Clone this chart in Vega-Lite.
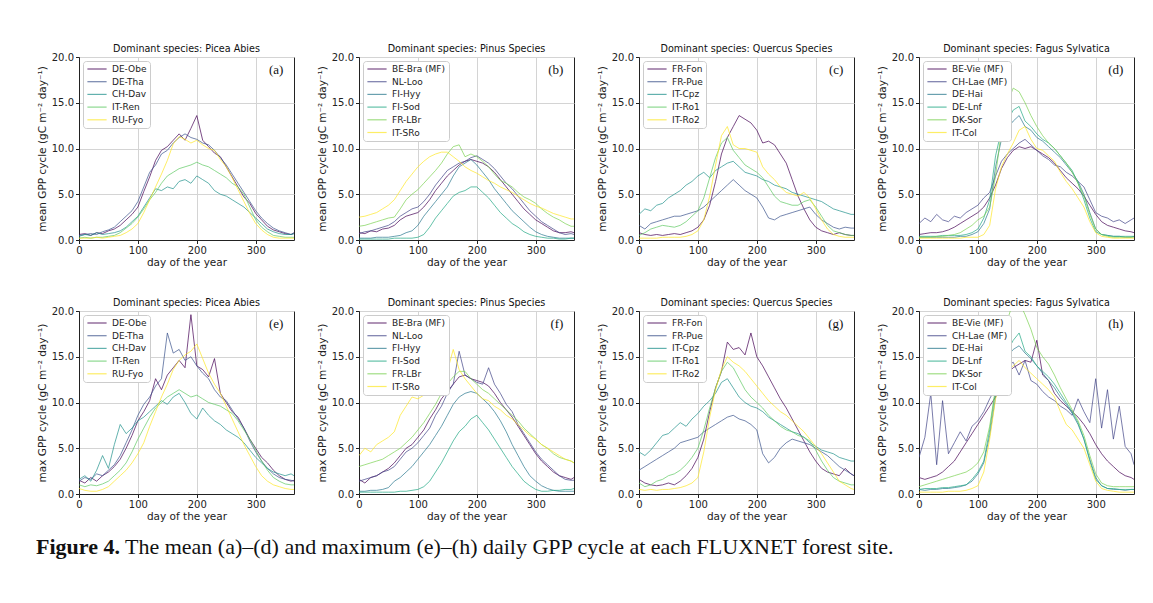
{
"$schema":"https://vega.github.io/schema/vega-lite/v6.json",
"padding":{"left":36,"top":43,"right":5,"bottom":5},
"background":"white",
"datasets":{
"a":[
{"s":"DE-Obe","d":0,"v":0.6},{"s":"DE-Obe","d":10,"v":0.7},{"s":"DE-Obe","d":20,"v":0.5},{"s":"DE-Obe","d":30,"v":0.8},{"s":"DE-Obe","d":40,"v":0.7},{"s":"DE-Obe","d":50,"v":1.0},{"s":"DE-Obe","d":60,"v":1.2},{"s":"DE-Obe","d":70,"v":1.6},{"s":"DE-Obe","d":80,"v":2.2},{"s":"DE-Obe","d":90,"v":2.8},{"s":"DE-Obe","d":100,"v":3.6},{"s":"DE-Obe","d":110,"v":5.3},{"s":"DE-Obe","d":120,"v":6.9},{"s":"DE-Obe","d":130,"v":8.7},{"s":"DE-Obe","d":140,"v":9.8},{"s":"DE-Obe","d":150,"v":10.2},{"s":"DE-Obe","d":160,"v":10.9},{"s":"DE-Obe","d":170,"v":11.6},{"s":"DE-Obe","d":180,"v":10.9},{"s":"DE-Obe","d":190,"v":12.2},{"s":"DE-Obe","d":200,"v":13.6},{"s":"DE-Obe","d":210,"v":10.9},{"s":"DE-Obe","d":220,"v":10.2},{"s":"DE-Obe","d":230,"v":9.5},{"s":"DE-Obe","d":240,"v":9.1},{"s":"DE-Obe","d":250,"v":8.0},{"s":"DE-Obe","d":260,"v":6.9},{"s":"DE-Obe","d":270,"v":5.8},{"s":"DE-Obe","d":280,"v":4.7},{"s":"DE-Obe","d":290,"v":4.0},{"s":"DE-Obe","d":300,"v":2.9},{"s":"DE-Obe","d":310,"v":2.2},{"s":"DE-Obe","d":320,"v":1.5},{"s":"DE-Obe","d":330,"v":1.1},{"s":"DE-Obe","d":340,"v":0.9},{"s":"DE-Obe","d":350,"v":0.7},{"s":"DE-Obe","d":360,"v":0.6},{"s":"DE-Obe","d":365,"v":0.8},
{"s":"DE-Tha","d":0,"v":0.5},{"s":"DE-Tha","d":10,"v":0.6},{"s":"DE-Tha","d":20,"v":0.7},{"s":"DE-Tha","d":30,"v":0.6},{"s":"DE-Tha","d":40,"v":0.9},{"s":"DE-Tha","d":50,"v":1.1},{"s":"DE-Tha","d":60,"v":1.4},{"s":"DE-Tha","d":70,"v":2.0},{"s":"DE-Tha","d":80,"v":2.6},{"s":"DE-Tha","d":90,"v":3.2},{"s":"DE-Tha","d":100,"v":4.2},{"s":"DE-Tha","d":110,"v":5.8},{"s":"DE-Tha","d":120,"v":7.4},{"s":"DE-Tha","d":130,"v":8.2},{"s":"DE-Tha","d":140,"v":9.4},{"s":"DE-Tha","d":150,"v":9.8},{"s":"DE-Tha","d":160,"v":10.6},{"s":"DE-Tha","d":170,"v":11.2},{"s":"DE-Tha","d":180,"v":11.6},{"s":"DE-Tha","d":190,"v":11.2},{"s":"DE-Tha","d":200,"v":11.0},{"s":"DE-Tha","d":210,"v":10.6},{"s":"DE-Tha","d":220,"v":10.4},{"s":"DE-Tha","d":230,"v":9.8},{"s":"DE-Tha","d":240,"v":9.0},{"s":"DE-Tha","d":250,"v":8.2},{"s":"DE-Tha","d":260,"v":7.2},{"s":"DE-Tha","d":270,"v":6.2},{"s":"DE-Tha","d":280,"v":5.2},{"s":"DE-Tha","d":290,"v":4.2},{"s":"DE-Tha","d":300,"v":3.2},{"s":"DE-Tha","d":310,"v":2.4},{"s":"DE-Tha","d":320,"v":1.8},{"s":"DE-Tha","d":330,"v":1.3},{"s":"DE-Tha","d":340,"v":1.0},{"s":"DE-Tha","d":350,"v":0.8},{"s":"DE-Tha","d":360,"v":0.6},{"s":"DE-Tha","d":365,"v":0.7},
{"s":"CH-Dav","d":0,"v":0.4},{"s":"CH-Dav","d":10,"v":0.6},{"s":"CH-Dav","d":20,"v":0.5},{"s":"CH-Dav","d":30,"v":0.8},{"s":"CH-Dav","d":40,"v":0.6},{"s":"CH-Dav","d":50,"v":0.7},{"s":"CH-Dav","d":60,"v":0.8},{"s":"CH-Dav","d":70,"v":1.0},{"s":"CH-Dav","d":80,"v":1.4},{"s":"CH-Dav","d":90,"v":2.0},{"s":"CH-Dav","d":100,"v":2.6},{"s":"CH-Dav","d":110,"v":3.6},{"s":"CH-Dav","d":120,"v":4.6},{"s":"CH-Dav","d":130,"v":5.6},{"s":"CH-Dav","d":140,"v":5.4},{"s":"CH-Dav","d":150,"v":5.8},{"s":"CH-Dav","d":160,"v":5.6},{"s":"CH-Dav","d":170,"v":6.4},{"s":"CH-Dav","d":180,"v":6.6},{"s":"CH-Dav","d":190,"v":6.2},{"s":"CH-Dav","d":200,"v":7.0},{"s":"CH-Dav","d":210,"v":6.6},{"s":"CH-Dav","d":220,"v":6.2},{"s":"CH-Dav","d":230,"v":5.4},{"s":"CH-Dav","d":240,"v":5.0},{"s":"CH-Dav","d":250,"v":4.8},{"s":"CH-Dav","d":260,"v":4.4},{"s":"CH-Dav","d":270,"v":4.0},{"s":"CH-Dav","d":280,"v":3.6},{"s":"CH-Dav","d":290,"v":3.0},{"s":"CH-Dav","d":300,"v":2.4},{"s":"CH-Dav","d":310,"v":1.8},{"s":"CH-Dav","d":320,"v":1.2},{"s":"CH-Dav","d":330,"v":0.9},{"s":"CH-Dav","d":340,"v":0.7},{"s":"CH-Dav","d":350,"v":0.6},{"s":"CH-Dav","d":360,"v":0.6},{"s":"CH-Dav","d":365,"v":0.7},
{"s":"IT-Ren","d":0,"v":0.2},{"s":"IT-Ren","d":10,"v":0.3},{"s":"IT-Ren","d":20,"v":0.2},{"s":"IT-Ren","d":30,"v":0.3},{"s":"IT-Ren","d":40,"v":0.3},{"s":"IT-Ren","d":50,"v":0.4},{"s":"IT-Ren","d":60,"v":0.5},{"s":"IT-Ren","d":70,"v":0.8},{"s":"IT-Ren","d":80,"v":1.3},{"s":"IT-Ren","d":90,"v":1.8},{"s":"IT-Ren","d":100,"v":2.5},{"s":"IT-Ren","d":110,"v":3.4},{"s":"IT-Ren","d":120,"v":4.4},{"s":"IT-Ren","d":130,"v":5.2},{"s":"IT-Ren","d":140,"v":6.2},{"s":"IT-Ren","d":150,"v":7.0},{"s":"IT-Ren","d":160,"v":7.4},{"s":"IT-Ren","d":170,"v":7.8},{"s":"IT-Ren","d":180,"v":8.0},{"s":"IT-Ren","d":190,"v":8.2},{"s":"IT-Ren","d":200,"v":8.5},{"s":"IT-Ren","d":210,"v":8.2},{"s":"IT-Ren","d":220,"v":8.0},{"s":"IT-Ren","d":230,"v":7.6},{"s":"IT-Ren","d":240,"v":7.2},{"s":"IT-Ren","d":250,"v":6.8},{"s":"IT-Ren","d":260,"v":6.2},{"s":"IT-Ren","d":270,"v":5.8},{"s":"IT-Ren","d":280,"v":5.0},{"s":"IT-Ren","d":290,"v":3.6},{"s":"IT-Ren","d":300,"v":2.2},{"s":"IT-Ren","d":310,"v":1.4},{"s":"IT-Ren","d":320,"v":0.9},{"s":"IT-Ren","d":330,"v":0.5},{"s":"IT-Ren","d":340,"v":0.4},{"s":"IT-Ren","d":350,"v":0.3},{"s":"IT-Ren","d":360,"v":0.3},{"s":"IT-Ren","d":365,"v":0.3},
{"s":"RU-Fyo","d":0,"v":0.2},{"s":"RU-Fyo","d":10,"v":0.2},{"s":"RU-Fyo","d":20,"v":0.2},{"s":"RU-Fyo","d":30,"v":0.3},{"s":"RU-Fyo","d":40,"v":0.2},{"s":"RU-Fyo","d":50,"v":0.3},{"s":"RU-Fyo","d":60,"v":0.4},{"s":"RU-Fyo","d":70,"v":0.5},{"s":"RU-Fyo","d":80,"v":0.8},{"s":"RU-Fyo","d":90,"v":1.2},{"s":"RU-Fyo","d":100,"v":1.8},{"s":"RU-Fyo","d":110,"v":3.0},{"s":"RU-Fyo","d":120,"v":4.4},{"s":"RU-Fyo","d":130,"v":5.8},{"s":"RU-Fyo","d":140,"v":7.2},{"s":"RU-Fyo","d":150,"v":8.7},{"s":"RU-Fyo","d":160,"v":10.5},{"s":"RU-Fyo","d":170,"v":11.3},{"s":"RU-Fyo","d":180,"v":11.0},{"s":"RU-Fyo","d":190,"v":10.6},{"s":"RU-Fyo","d":200,"v":10.9},{"s":"RU-Fyo","d":210,"v":10.4},{"s":"RU-Fyo","d":220,"v":10.0},{"s":"RU-Fyo","d":230,"v":9.8},{"s":"RU-Fyo","d":240,"v":8.8},{"s":"RU-Fyo","d":250,"v":8.0},{"s":"RU-Fyo","d":260,"v":6.8},{"s":"RU-Fyo","d":270,"v":5.5},{"s":"RU-Fyo","d":280,"v":4.2},{"s":"RU-Fyo","d":290,"v":2.9},{"s":"RU-Fyo","d":300,"v":1.8},{"s":"RU-Fyo","d":310,"v":1.1},{"s":"RU-Fyo","d":320,"v":0.6},{"s":"RU-Fyo","d":330,"v":0.3},{"s":"RU-Fyo","d":340,"v":0.2},{"s":"RU-Fyo","d":350,"v":0.2},{"s":"RU-Fyo","d":360,"v":0.2},{"s":"RU-Fyo","d":365,"v":0.2}
],
"b":[
{"s":"BE-Bra (MF)","d":0,"v":0.8},{"s":"BE-Bra (MF)","d":10,"v":0.7},{"s":"BE-Bra (MF)","d":20,"v":1.0},{"s":"BE-Bra (MF)","d":30,"v":0.9},{"s":"BE-Bra (MF)","d":40,"v":1.2},{"s":"BE-Bra (MF)","d":50,"v":1.3},{"s":"BE-Bra (MF)","d":60,"v":1.6},{"s":"BE-Bra (MF)","d":70,"v":2.2},{"s":"BE-Bra (MF)","d":80,"v":2.6},{"s":"BE-Bra (MF)","d":90,"v":2.8},{"s":"BE-Bra (MF)","d":100,"v":3.0},{"s":"BE-Bra (MF)","d":110,"v":3.6},{"s":"BE-Bra (MF)","d":120,"v":4.4},{"s":"BE-Bra (MF)","d":130,"v":5.4},{"s":"BE-Bra (MF)","d":140,"v":6.2},{"s":"BE-Bra (MF)","d":150,"v":7.0},{"s":"BE-Bra (MF)","d":160,"v":7.6},{"s":"BE-Bra (MF)","d":170,"v":8.2},{"s":"BE-Bra (MF)","d":180,"v":8.6},{"s":"BE-Bra (MF)","d":190,"v":8.8},{"s":"BE-Bra (MF)","d":200,"v":8.6},{"s":"BE-Bra (MF)","d":210,"v":8.4},{"s":"BE-Bra (MF)","d":220,"v":8.0},{"s":"BE-Bra (MF)","d":230,"v":7.4},{"s":"BE-Bra (MF)","d":240,"v":6.6},{"s":"BE-Bra (MF)","d":250,"v":5.8},{"s":"BE-Bra (MF)","d":260,"v":5.0},{"s":"BE-Bra (MF)","d":270,"v":4.2},{"s":"BE-Bra (MF)","d":280,"v":3.4},{"s":"BE-Bra (MF)","d":290,"v":2.8},{"s":"BE-Bra (MF)","d":300,"v":2.2},{"s":"BE-Bra (MF)","d":310,"v":1.8},{"s":"BE-Bra (MF)","d":320,"v":1.4},{"s":"BE-Bra (MF)","d":330,"v":1.0},{"s":"BE-Bra (MF)","d":340,"v":0.8},{"s":"BE-Bra (MF)","d":350,"v":0.8},{"s":"BE-Bra (MF)","d":360,"v":0.9},{"s":"BE-Bra (MF)","d":365,"v":0.8},
{"s":"NL-Loo","d":0,"v":0.7},{"s":"NL-Loo","d":10,"v":0.9},{"s":"NL-Loo","d":20,"v":1.0},{"s":"NL-Loo","d":30,"v":1.2},{"s":"NL-Loo","d":40,"v":1.4},{"s":"NL-Loo","d":50,"v":1.6},{"s":"NL-Loo","d":60,"v":2.0},{"s":"NL-Loo","d":70,"v":2.6},{"s":"NL-Loo","d":80,"v":3.0},{"s":"NL-Loo","d":90,"v":3.4},{"s":"NL-Loo","d":100,"v":3.6},{"s":"NL-Loo","d":110,"v":4.2},{"s":"NL-Loo","d":120,"v":5.0},{"s":"NL-Loo","d":130,"v":6.0},{"s":"NL-Loo","d":140,"v":6.8},{"s":"NL-Loo","d":150,"v":7.6},{"s":"NL-Loo","d":160,"v":8.0},{"s":"NL-Loo","d":170,"v":8.4},{"s":"NL-Loo","d":180,"v":8.6},{"s":"NL-Loo","d":190,"v":9.0},{"s":"NL-Loo","d":200,"v":9.2},{"s":"NL-Loo","d":210,"v":8.8},{"s":"NL-Loo","d":220,"v":8.4},{"s":"NL-Loo","d":230,"v":7.8},{"s":"NL-Loo","d":240,"v":7.0},{"s":"NL-Loo","d":250,"v":6.2},{"s":"NL-Loo","d":260,"v":5.6},{"s":"NL-Loo","d":270,"v":4.8},{"s":"NL-Loo","d":280,"v":4.0},{"s":"NL-Loo","d":290,"v":3.2},{"s":"NL-Loo","d":300,"v":2.6},{"s":"NL-Loo","d":310,"v":2.0},{"s":"NL-Loo","d":320,"v":1.6},{"s":"NL-Loo","d":330,"v":1.2},{"s":"NL-Loo","d":340,"v":0.8},{"s":"NL-Loo","d":350,"v":0.6},{"s":"NL-Loo","d":360,"v":0.7},{"s":"NL-Loo","d":365,"v":0.6},
{"s":"FI-Hyy","d":0,"v":0.2},{"s":"FI-Hyy","d":10,"v":0.2},{"s":"FI-Hyy","d":20,"v":0.2},{"s":"FI-Hyy","d":30,"v":0.3},{"s":"FI-Hyy","d":40,"v":0.3},{"s":"FI-Hyy","d":50,"v":0.3},{"s":"FI-Hyy","d":60,"v":0.4},{"s":"FI-Hyy","d":70,"v":0.5},{"s":"FI-Hyy","d":80,"v":0.8},{"s":"FI-Hyy","d":90,"v":1.0},{"s":"FI-Hyy","d":100,"v":1.6},{"s":"FI-Hyy","d":110,"v":2.6},{"s":"FI-Hyy","d":120,"v":3.4},{"s":"FI-Hyy","d":130,"v":4.2},{"s":"FI-Hyy","d":140,"v":5.0},{"s":"FI-Hyy","d":150,"v":5.8},{"s":"FI-Hyy","d":160,"v":7.0},{"s":"FI-Hyy","d":170,"v":8.0},{"s":"FI-Hyy","d":180,"v":8.4},{"s":"FI-Hyy","d":190,"v":8.8},{"s":"FI-Hyy","d":200,"v":8.2},{"s":"FI-Hyy","d":210,"v":7.4},{"s":"FI-Hyy","d":220,"v":6.6},{"s":"FI-Hyy","d":230,"v":5.6},{"s":"FI-Hyy","d":240,"v":4.8},{"s":"FI-Hyy","d":250,"v":4.0},{"s":"FI-Hyy","d":260,"v":3.2},{"s":"FI-Hyy","d":270,"v":2.6},{"s":"FI-Hyy","d":280,"v":2.0},{"s":"FI-Hyy","d":290,"v":1.4},{"s":"FI-Hyy","d":300,"v":0.9},{"s":"FI-Hyy","d":310,"v":0.6},{"s":"FI-Hyy","d":320,"v":0.4},{"s":"FI-Hyy","d":330,"v":0.3},{"s":"FI-Hyy","d":340,"v":0.2},{"s":"FI-Hyy","d":350,"v":0.2},{"s":"FI-Hyy","d":360,"v":0.2},{"s":"FI-Hyy","d":365,"v":0.2},
{"s":"FI-Sod","d":0,"v":0.1},{"s":"FI-Sod","d":10,"v":0.1},{"s":"FI-Sod","d":20,"v":0.1},{"s":"FI-Sod","d":30,"v":0.1},{"s":"FI-Sod","d":40,"v":0.1},{"s":"FI-Sod","d":50,"v":0.1},{"s":"FI-Sod","d":60,"v":0.2},{"s":"FI-Sod","d":70,"v":0.2},{"s":"FI-Sod","d":80,"v":0.2},{"s":"FI-Sod","d":90,"v":0.2},{"s":"FI-Sod","d":100,"v":0.3},{"s":"FI-Sod","d":110,"v":0.6},{"s":"FI-Sod","d":120,"v":1.4},{"s":"FI-Sod","d":130,"v":2.4},{"s":"FI-Sod","d":140,"v":3.2},{"s":"FI-Sod","d":150,"v":4.0},{"s":"FI-Sod","d":160,"v":4.8},{"s":"FI-Sod","d":170,"v":5.2},{"s":"FI-Sod","d":180,"v":5.4},{"s":"FI-Sod","d":190,"v":5.8},{"s":"FI-Sod","d":200,"v":5.8},{"s":"FI-Sod","d":210,"v":5.2},{"s":"FI-Sod","d":220,"v":4.6},{"s":"FI-Sod","d":230,"v":3.8},{"s":"FI-Sod","d":240,"v":3.0},{"s":"FI-Sod","d":250,"v":2.4},{"s":"FI-Sod","d":260,"v":1.8},{"s":"FI-Sod","d":270,"v":1.4},{"s":"FI-Sod","d":280,"v":0.9},{"s":"FI-Sod","d":290,"v":0.6},{"s":"FI-Sod","d":300,"v":0.4},{"s":"FI-Sod","d":310,"v":0.3},{"s":"FI-Sod","d":320,"v":0.2},{"s":"FI-Sod","d":330,"v":0.2},{"s":"FI-Sod","d":340,"v":0.1},{"s":"FI-Sod","d":350,"v":0.1},{"s":"FI-Sod","d":360,"v":0.2},{"s":"FI-Sod","d":365,"v":0.2},
{"s":"FR-LBr","d":0,"v":1.5},{"s":"FR-LBr","d":10,"v":1.6},{"s":"FR-LBr","d":20,"v":1.8},{"s":"FR-LBr","d":30,"v":2.0},{"s":"FR-LBr","d":40,"v":2.2},{"s":"FR-LBr","d":50,"v":2.4},{"s":"FR-LBr","d":60,"v":2.5},{"s":"FR-LBr","d":70,"v":3.4},{"s":"FR-LBr","d":80,"v":4.4},{"s":"FR-LBr","d":90,"v":5.0},{"s":"FR-LBr","d":100,"v":5.5},{"s":"FR-LBr","d":110,"v":6.2},{"s":"FR-LBr","d":120,"v":6.9},{"s":"FR-LBr","d":130,"v":7.6},{"s":"FR-LBr","d":140,"v":8.4},{"s":"FR-LBr","d":150,"v":9.4},{"s":"FR-LBr","d":160,"v":10.2},{"s":"FR-LBr","d":170,"v":10.4},{"s":"FR-LBr","d":180,"v":9.1},{"s":"FR-LBr","d":190,"v":9.4},{"s":"FR-LBr","d":200,"v":9.1},{"s":"FR-LBr","d":210,"v":8.6},{"s":"FR-LBr","d":220,"v":8.0},{"s":"FR-LBr","d":230,"v":7.2},{"s":"FR-LBr","d":240,"v":6.5},{"s":"FR-LBr","d":250,"v":6.2},{"s":"FR-LBr","d":260,"v":5.8},{"s":"FR-LBr","d":270,"v":5.2},{"s":"FR-LBr","d":280,"v":4.7},{"s":"FR-LBr","d":290,"v":4.4},{"s":"FR-LBr","d":300,"v":4.0},{"s":"FR-LBr","d":310,"v":3.4},{"s":"FR-LBr","d":320,"v":2.9},{"s":"FR-LBr","d":330,"v":2.5},{"s":"FR-LBr","d":340,"v":2.2},{"s":"FR-LBr","d":350,"v":1.8},{"s":"FR-LBr","d":360,"v":1.5},{"s":"FR-LBr","d":365,"v":1.5},
{"s":"IT-SRo","d":0,"v":2.5},{"s":"IT-SRo","d":10,"v":2.6},{"s":"IT-SRo","d":20,"v":2.8},{"s":"IT-SRo","d":30,"v":3.0},{"s":"IT-SRo","d":40,"v":3.4},{"s":"IT-SRo","d":50,"v":3.8},{"s":"IT-SRo","d":60,"v":4.4},{"s":"IT-SRo","d":70,"v":5.4},{"s":"IT-SRo","d":80,"v":6.4},{"s":"IT-SRo","d":90,"v":7.2},{"s":"IT-SRo","d":100,"v":8.0},{"s":"IT-SRo","d":110,"v":8.6},{"s":"IT-SRo","d":120,"v":9.1},{"s":"IT-SRo","d":130,"v":9.4},{"s":"IT-SRo","d":140,"v":9.6},{"s":"IT-SRo","d":150,"v":9.6},{"s":"IT-SRo","d":160,"v":9.1},{"s":"IT-SRo","d":170,"v":8.6},{"s":"IT-SRo","d":180,"v":8.0},{"s":"IT-SRo","d":190,"v":7.6},{"s":"IT-SRo","d":200,"v":7.3},{"s":"IT-SRo","d":210,"v":6.9},{"s":"IT-SRo","d":220,"v":6.5},{"s":"IT-SRo","d":230,"v":6.2},{"s":"IT-SRo","d":240,"v":5.8},{"s":"IT-SRo","d":250,"v":5.5},{"s":"IT-SRo","d":260,"v":5.2},{"s":"IT-SRo","d":270,"v":4.8},{"s":"IT-SRo","d":280,"v":4.4},{"s":"IT-SRo","d":290,"v":4.0},{"s":"IT-SRo","d":300,"v":3.7},{"s":"IT-SRo","d":310,"v":3.5},{"s":"IT-SRo","d":320,"v":3.2},{"s":"IT-SRo","d":330,"v":2.9},{"s":"IT-SRo","d":340,"v":2.7},{"s":"IT-SRo","d":350,"v":2.5},{"s":"IT-SRo","d":360,"v":2.3},{"s":"IT-SRo","d":365,"v":2.3}
],
"c":[
{"s":"FR-Fon","d":0,"v":0.8},{"s":"FR-Fon","d":10,"v":0.6},{"s":"FR-Fon","d":20,"v":0.5},{"s":"FR-Fon","d":30,"v":0.6},{"s":"FR-Fon","d":40,"v":0.5},{"s":"FR-Fon","d":50,"v":0.6},{"s":"FR-Fon","d":60,"v":0.7},{"s":"FR-Fon","d":70,"v":0.6},{"s":"FR-Fon","d":80,"v":0.8},{"s":"FR-Fon","d":90,"v":1.0},{"s":"FR-Fon","d":100,"v":1.4},{"s":"FR-Fon","d":110,"v":2.2},{"s":"FR-Fon","d":120,"v":3.8},{"s":"FR-Fon","d":130,"v":6.4},{"s":"FR-Fon","d":140,"v":9.4},{"s":"FR-Fon","d":150,"v":11.2},{"s":"FR-Fon","d":160,"v":12.4},{"s":"FR-Fon","d":170,"v":13.6},{"s":"FR-Fon","d":180,"v":13.2},{"s":"FR-Fon","d":190,"v":12.8},{"s":"FR-Fon","d":200,"v":12.0},{"s":"FR-Fon","d":210,"v":10.6},{"s":"FR-Fon","d":220,"v":10.8},{"s":"FR-Fon","d":230,"v":10.4},{"s":"FR-Fon","d":240,"v":9.4},{"s":"FR-Fon","d":250,"v":8.4},{"s":"FR-Fon","d":260,"v":6.6},{"s":"FR-Fon","d":270,"v":4.8},{"s":"FR-Fon","d":280,"v":3.4},{"s":"FR-Fon","d":290,"v":2.2},{"s":"FR-Fon","d":300,"v":1.4},{"s":"FR-Fon","d":310,"v":1.0},{"s":"FR-Fon","d":320,"v":0.8},{"s":"FR-Fon","d":330,"v":0.6},{"s":"FR-Fon","d":340,"v":0.8},{"s":"FR-Fon","d":350,"v":0.6},{"s":"FR-Fon","d":360,"v":0.5},{"s":"FR-Fon","d":365,"v":0.5},
{"s":"FR-Pue","d":0,"v":1.6},{"s":"FR-Pue","d":10,"v":1.2},{"s":"FR-Pue","d":20,"v":1.8},{"s":"FR-Pue","d":30,"v":2.0},{"s":"FR-Pue","d":40,"v":2.2},{"s":"FR-Pue","d":50,"v":2.4},{"s":"FR-Pue","d":60,"v":2.6},{"s":"FR-Pue","d":70,"v":2.6},{"s":"FR-Pue","d":80,"v":2.8},{"s":"FR-Pue","d":90,"v":3.0},{"s":"FR-Pue","d":100,"v":3.2},{"s":"FR-Pue","d":110,"v":3.6},{"s":"FR-Pue","d":120,"v":4.2},{"s":"FR-Pue","d":130,"v":4.8},{"s":"FR-Pue","d":140,"v":5.4},{"s":"FR-Pue","d":150,"v":6.0},{"s":"FR-Pue","d":160,"v":6.6},{"s":"FR-Pue","d":170,"v":6.0},{"s":"FR-Pue","d":180,"v":5.4},{"s":"FR-Pue","d":190,"v":5.0},{"s":"FR-Pue","d":200,"v":4.6},{"s":"FR-Pue","d":210,"v":3.6},{"s":"FR-Pue","d":220,"v":2.4},{"s":"FR-Pue","d":230,"v":2.2},{"s":"FR-Pue","d":240,"v":2.6},{"s":"FR-Pue","d":250,"v":2.8},{"s":"FR-Pue","d":260,"v":3.0},{"s":"FR-Pue","d":270,"v":3.2},{"s":"FR-Pue","d":280,"v":3.4},{"s":"FR-Pue","d":290,"v":3.6},{"s":"FR-Pue","d":300,"v":2.8},{"s":"FR-Pue","d":310,"v":2.2},{"s":"FR-Pue","d":320,"v":1.8},{"s":"FR-Pue","d":330,"v":1.4},{"s":"FR-Pue","d":340,"v":1.2},{"s":"FR-Pue","d":350,"v":1.4},{"s":"FR-Pue","d":360,"v":1.3},{"s":"FR-Pue","d":365,"v":1.3},
{"s":"IT-Cpz","d":0,"v":2.8},{"s":"IT-Cpz","d":10,"v":3.4},{"s":"IT-Cpz","d":20,"v":3.2},{"s":"IT-Cpz","d":30,"v":3.8},{"s":"IT-Cpz","d":40,"v":4.0},{"s":"IT-Cpz","d":50,"v":4.6},{"s":"IT-Cpz","d":60,"v":5.0},{"s":"IT-Cpz","d":70,"v":5.4},{"s":"IT-Cpz","d":80,"v":6.0},{"s":"IT-Cpz","d":90,"v":6.4},{"s":"IT-Cpz","d":100,"v":7.0},{"s":"IT-Cpz","d":110,"v":7.4},{"s":"IT-Cpz","d":120,"v":6.8},{"s":"IT-Cpz","d":130,"v":7.6},{"s":"IT-Cpz","d":140,"v":8.0},{"s":"IT-Cpz","d":150,"v":8.4},{"s":"IT-Cpz","d":160,"v":8.6},{"s":"IT-Cpz","d":170,"v":8.0},{"s":"IT-Cpz","d":180,"v":7.4},{"s":"IT-Cpz","d":190,"v":7.2},{"s":"IT-Cpz","d":200,"v":7.0},{"s":"IT-Cpz","d":210,"v":6.6},{"s":"IT-Cpz","d":220,"v":6.4},{"s":"IT-Cpz","d":230,"v":6.0},{"s":"IT-Cpz","d":240,"v":5.8},{"s":"IT-Cpz","d":250,"v":5.6},{"s":"IT-Cpz","d":260,"v":5.2},{"s":"IT-Cpz","d":270,"v":5.0},{"s":"IT-Cpz","d":280,"v":4.8},{"s":"IT-Cpz","d":290,"v":4.6},{"s":"IT-Cpz","d":300,"v":4.4},{"s":"IT-Cpz","d":310,"v":4.2},{"s":"IT-Cpz","d":320,"v":3.8},{"s":"IT-Cpz","d":330,"v":3.4},{"s":"IT-Cpz","d":340,"v":3.2},{"s":"IT-Cpz","d":350,"v":3.0},{"s":"IT-Cpz","d":360,"v":2.8},{"s":"IT-Cpz","d":365,"v":2.8},
{"s":"IT-Ro1","d":0,"v":0.5},{"s":"IT-Ro1","d":10,"v":0.8},{"s":"IT-Ro1","d":20,"v":1.2},{"s":"IT-Ro1","d":30,"v":1.4},{"s":"IT-Ro1","d":40,"v":1.6},{"s":"IT-Ro1","d":50,"v":1.5},{"s":"IT-Ro1","d":60,"v":1.4},{"s":"IT-Ro1","d":70,"v":1.6},{"s":"IT-Ro1","d":80,"v":2.0},{"s":"IT-Ro1","d":90,"v":2.6},{"s":"IT-Ro1","d":100,"v":3.2},{"s":"IT-Ro1","d":110,"v":4.6},{"s":"IT-Ro1","d":120,"v":6.8},{"s":"IT-Ro1","d":130,"v":9.0},{"s":"IT-Ro1","d":140,"v":10.6},{"s":"IT-Ro1","d":150,"v":11.2},{"s":"IT-Ro1","d":160,"v":9.8},{"s":"IT-Ro1","d":170,"v":9.0},{"s":"IT-Ro1","d":180,"v":8.2},{"s":"IT-Ro1","d":190,"v":7.8},{"s":"IT-Ro1","d":200,"v":7.4},{"s":"IT-Ro1","d":210,"v":6.8},{"s":"IT-Ro1","d":220,"v":5.8},{"s":"IT-Ro1","d":230,"v":4.8},{"s":"IT-Ro1","d":240,"v":4.2},{"s":"IT-Ro1","d":250,"v":4.0},{"s":"IT-Ro1","d":260,"v":3.8},{"s":"IT-Ro1","d":270,"v":3.8},{"s":"IT-Ro1","d":280,"v":4.2},{"s":"IT-Ro1","d":290,"v":4.4},{"s":"IT-Ro1","d":300,"v":3.6},{"s":"IT-Ro1","d":310,"v":2.6},{"s":"IT-Ro1","d":320,"v":1.6},{"s":"IT-Ro1","d":330,"v":1.0},{"s":"IT-Ro1","d":340,"v":0.8},{"s":"IT-Ro1","d":350,"v":0.6},{"s":"IT-Ro1","d":360,"v":0.5},{"s":"IT-Ro1","d":365,"v":0.5},
{"s":"IT-Ro2","d":0,"v":0.2},{"s":"IT-Ro2","d":10,"v":0.2},{"s":"IT-Ro2","d":20,"v":0.2},{"s":"IT-Ro2","d":30,"v":0.2},{"s":"IT-Ro2","d":40,"v":0.3},{"s":"IT-Ro2","d":50,"v":0.3},{"s":"IT-Ro2","d":60,"v":0.3},{"s":"IT-Ro2","d":70,"v":0.3},{"s":"IT-Ro2","d":80,"v":0.4},{"s":"IT-Ro2","d":90,"v":0.6},{"s":"IT-Ro2","d":100,"v":1.0},{"s":"IT-Ro2","d":110,"v":2.2},{"s":"IT-Ro2","d":120,"v":4.8},{"s":"IT-Ro2","d":130,"v":8.2},{"s":"IT-Ro2","d":140,"v":11.4},{"s":"IT-Ro2","d":150,"v":12.4},{"s":"IT-Ro2","d":160,"v":10.4},{"s":"IT-Ro2","d":170,"v":10.0},{"s":"IT-Ro2","d":180,"v":10.0},{"s":"IT-Ro2","d":190,"v":9.8},{"s":"IT-Ro2","d":200,"v":9.6},{"s":"IT-Ro2","d":210,"v":8.0},{"s":"IT-Ro2","d":220,"v":7.2},{"s":"IT-Ro2","d":230,"v":6.6},{"s":"IT-Ro2","d":240,"v":5.8},{"s":"IT-Ro2","d":250,"v":5.2},{"s":"IT-Ro2","d":260,"v":5.0},{"s":"IT-Ro2","d":270,"v":4.8},{"s":"IT-Ro2","d":280,"v":5.2},{"s":"IT-Ro2","d":290,"v":4.6},{"s":"IT-Ro2","d":300,"v":3.4},{"s":"IT-Ro2","d":310,"v":2.2},{"s":"IT-Ro2","d":320,"v":1.2},{"s":"IT-Ro2","d":330,"v":0.6},{"s":"IT-Ro2","d":340,"v":0.4},{"s":"IT-Ro2","d":350,"v":0.3},{"s":"IT-Ro2","d":360,"v":0.3},{"s":"IT-Ro2","d":365,"v":0.3}
],
"d":[
{"s":"BE-Vie (MF)","d":0,"v":0.6},{"s":"BE-Vie (MF)","d":10,"v":0.7},{"s":"BE-Vie (MF)","d":20,"v":0.8},{"s":"BE-Vie (MF)","d":30,"v":0.8},{"s":"BE-Vie (MF)","d":40,"v":0.9},{"s":"BE-Vie (MF)","d":50,"v":1.1},{"s":"BE-Vie (MF)","d":60,"v":1.4},{"s":"BE-Vie (MF)","d":70,"v":1.8},{"s":"BE-Vie (MF)","d":80,"v":2.2},{"s":"BE-Vie (MF)","d":90,"v":2.6},{"s":"BE-Vie (MF)","d":100,"v":3.0},{"s":"BE-Vie (MF)","d":110,"v":3.6},{"s":"BE-Vie (MF)","d":120,"v":4.6},{"s":"BE-Vie (MF)","d":130,"v":6.0},{"s":"BE-Vie (MF)","d":140,"v":7.8},{"s":"BE-Vie (MF)","d":150,"v":9.0},{"s":"BE-Vie (MF)","d":160,"v":9.8},{"s":"BE-Vie (MF)","d":170,"v":10.2},{"s":"BE-Vie (MF)","d":180,"v":10.0},{"s":"BE-Vie (MF)","d":190,"v":10.2},{"s":"BE-Vie (MF)","d":200,"v":9.8},{"s":"BE-Vie (MF)","d":210,"v":9.4},{"s":"BE-Vie (MF)","d":220,"v":9.0},{"s":"BE-Vie (MF)","d":230,"v":8.4},{"s":"BE-Vie (MF)","d":240,"v":7.6},{"s":"BE-Vie (MF)","d":250,"v":6.8},{"s":"BE-Vie (MF)","d":260,"v":6.2},{"s":"BE-Vie (MF)","d":270,"v":5.6},{"s":"BE-Vie (MF)","d":280,"v":4.8},{"s":"BE-Vie (MF)","d":290,"v":3.8},{"s":"BE-Vie (MF)","d":300,"v":2.8},{"s":"BE-Vie (MF)","d":310,"v":2.0},{"s":"BE-Vie (MF)","d":320,"v":1.6},{"s":"BE-Vie (MF)","d":330,"v":1.4},{"s":"BE-Vie (MF)","d":340,"v":1.2},{"s":"BE-Vie (MF)","d":350,"v":1.0},{"s":"BE-Vie (MF)","d":360,"v":0.9},{"s":"BE-Vie (MF)","d":365,"v":0.8},
{"s":"CH-Lae (MF)","d":0,"v":1.8},{"s":"CH-Lae (MF)","d":10,"v":2.4},{"s":"CH-Lae (MF)","d":20,"v":2.0},{"s":"CH-Lae (MF)","d":30,"v":2.8},{"s":"CH-Lae (MF)","d":40,"v":2.2},{"s":"CH-Lae (MF)","d":50,"v":2.0},{"s":"CH-Lae (MF)","d":60,"v":2.6},{"s":"CH-Lae (MF)","d":70,"v":2.4},{"s":"CH-Lae (MF)","d":80,"v":3.0},{"s":"CH-Lae (MF)","d":90,"v":3.4},{"s":"CH-Lae (MF)","d":100,"v":3.8},{"s":"CH-Lae (MF)","d":110,"v":4.6},{"s":"CH-Lae (MF)","d":120,"v":5.2},{"s":"CH-Lae (MF)","d":130,"v":7.0},{"s":"CH-Lae (MF)","d":140,"v":8.6},{"s":"CH-Lae (MF)","d":150,"v":9.4},{"s":"CH-Lae (MF)","d":160,"v":10.0},{"s":"CH-Lae (MF)","d":170,"v":10.6},{"s":"CH-Lae (MF)","d":180,"v":11.0},{"s":"CH-Lae (MF)","d":190,"v":10.4},{"s":"CH-Lae (MF)","d":200,"v":9.8},{"s":"CH-Lae (MF)","d":210,"v":9.2},{"s":"CH-Lae (MF)","d":220,"v":8.8},{"s":"CH-Lae (MF)","d":230,"v":8.2},{"s":"CH-Lae (MF)","d":240,"v":8.0},{"s":"CH-Lae (MF)","d":250,"v":7.4},{"s":"CH-Lae (MF)","d":260,"v":7.0},{"s":"CH-Lae (MF)","d":270,"v":6.4},{"s":"CH-Lae (MF)","d":280,"v":5.8},{"s":"CH-Lae (MF)","d":290,"v":4.4},{"s":"CH-Lae (MF)","d":300,"v":3.0},{"s":"CH-Lae (MF)","d":310,"v":2.6},{"s":"CH-Lae (MF)","d":320,"v":2.4},{"s":"CH-Lae (MF)","d":330,"v":2.0},{"s":"CH-Lae (MF)","d":340,"v":2.2},{"s":"CH-Lae (MF)","d":350,"v":1.8},{"s":"CH-Lae (MF)","d":360,"v":2.2},{"s":"CH-Lae (MF)","d":365,"v":2.4},
{"s":"DE-Hai","d":0,"v":0.3},{"s":"DE-Hai","d":10,"v":0.3},{"s":"DE-Hai","d":20,"v":0.3},{"s":"DE-Hai","d":30,"v":0.3},{"s":"DE-Hai","d":40,"v":0.3},{"s":"DE-Hai","d":50,"v":0.3},{"s":"DE-Hai","d":60,"v":0.3},{"s":"DE-Hai","d":70,"v":0.4},{"s":"DE-Hai","d":80,"v":0.4},{"s":"DE-Hai","d":90,"v":0.6},{"s":"DE-Hai","d":100,"v":0.9},{"s":"DE-Hai","d":110,"v":1.8},{"s":"DE-Hai","d":120,"v":3.4},{"s":"DE-Hai","d":130,"v":8.0},{"s":"DE-Hai","d":140,"v":11.0},{"s":"DE-Hai","d":150,"v":12.2},{"s":"DE-Hai","d":160,"v":13.0},{"s":"DE-Hai","d":170,"v":13.6},{"s":"DE-Hai","d":180,"v":12.4},{"s":"DE-Hai","d":190,"v":12.0},{"s":"DE-Hai","d":200,"v":11.2},{"s":"DE-Hai","d":210,"v":10.8},{"s":"DE-Hai","d":220,"v":10.2},{"s":"DE-Hai","d":230,"v":9.6},{"s":"DE-Hai","d":240,"v":9.0},{"s":"DE-Hai","d":250,"v":8.2},{"s":"DE-Hai","d":260,"v":7.4},{"s":"DE-Hai","d":270,"v":6.4},{"s":"DE-Hai","d":280,"v":5.0},{"s":"DE-Hai","d":290,"v":3.0},{"s":"DE-Hai","d":300,"v":1.2},{"s":"DE-Hai","d":310,"v":0.6},{"s":"DE-Hai","d":320,"v":0.5},{"s":"DE-Hai","d":330,"v":0.4},{"s":"DE-Hai","d":340,"v":0.4},{"s":"DE-Hai","d":350,"v":0.3},{"s":"DE-Hai","d":360,"v":0.3},{"s":"DE-Hai","d":365,"v":0.4},
{"s":"DE-Lnf","d":0,"v":0.4},{"s":"DE-Lnf","d":10,"v":0.4},{"s":"DE-Lnf","d":20,"v":0.4},{"s":"DE-Lnf","d":30,"v":0.4},{"s":"DE-Lnf","d":40,"v":0.5},{"s":"DE-Lnf","d":50,"v":0.5},{"s":"DE-Lnf","d":60,"v":0.5},{"s":"DE-Lnf","d":70,"v":0.5},{"s":"DE-Lnf","d":80,"v":0.6},{"s":"DE-Lnf","d":90,"v":0.8},{"s":"DE-Lnf","d":100,"v":1.2},{"s":"DE-Lnf","d":110,"v":2.4},{"s":"DE-Lnf","d":120,"v":4.4},{"s":"DE-Lnf","d":130,"v":9.2},{"s":"DE-Lnf","d":140,"v":12.0},{"s":"DE-Lnf","d":150,"v":13.0},{"s":"DE-Lnf","d":160,"v":14.2},{"s":"DE-Lnf","d":170,"v":14.6},{"s":"DE-Lnf","d":180,"v":13.0},{"s":"DE-Lnf","d":190,"v":12.4},{"s":"DE-Lnf","d":200,"v":11.6},{"s":"DE-Lnf","d":210,"v":11.0},{"s":"DE-Lnf","d":220,"v":10.6},{"s":"DE-Lnf","d":230,"v":10.0},{"s":"DE-Lnf","d":240,"v":9.2},{"s":"DE-Lnf","d":250,"v":8.4},{"s":"DE-Lnf","d":260,"v":7.6},{"s":"DE-Lnf","d":270,"v":6.2},{"s":"DE-Lnf","d":280,"v":4.4},{"s":"DE-Lnf","d":290,"v":2.4},{"s":"DE-Lnf","d":300,"v":0.9},{"s":"DE-Lnf","d":310,"v":0.6},{"s":"DE-Lnf","d":320,"v":0.5},{"s":"DE-Lnf","d":330,"v":0.4},{"s":"DE-Lnf","d":340,"v":0.4},{"s":"DE-Lnf","d":350,"v":0.4},{"s":"DE-Lnf","d":360,"v":0.4},{"s":"DE-Lnf","d":365,"v":0.4},
{"s":"DK-Sor","d":0,"v":0.3},{"s":"DK-Sor","d":10,"v":0.3},{"s":"DK-Sor","d":20,"v":0.3},{"s":"DK-Sor","d":30,"v":0.4},{"s":"DK-Sor","d":40,"v":0.4},{"s":"DK-Sor","d":50,"v":0.5},{"s":"DK-Sor","d":60,"v":0.6},{"s":"DK-Sor","d":70,"v":0.8},{"s":"DK-Sor","d":80,"v":1.2},{"s":"DK-Sor","d":90,"v":1.6},{"s":"DK-Sor","d":100,"v":2.2},{"s":"DK-Sor","d":110,"v":2.6},{"s":"DK-Sor","d":120,"v":3.6},{"s":"DK-Sor","d":130,"v":7.0},{"s":"DK-Sor","d":140,"v":12.0},{"s":"DK-Sor","d":150,"v":15.0},{"s":"DK-Sor","d":160,"v":16.6},{"s":"DK-Sor","d":170,"v":16.2},{"s":"DK-Sor","d":180,"v":15.0},{"s":"DK-Sor","d":190,"v":13.6},{"s":"DK-Sor","d":200,"v":12.4},{"s":"DK-Sor","d":210,"v":11.4},{"s":"DK-Sor","d":220,"v":10.6},{"s":"DK-Sor","d":230,"v":10.0},{"s":"DK-Sor","d":240,"v":9.2},{"s":"DK-Sor","d":250,"v":8.4},{"s":"DK-Sor","d":260,"v":7.4},{"s":"DK-Sor","d":270,"v":6.2},{"s":"DK-Sor","d":280,"v":4.8},{"s":"DK-Sor","d":290,"v":2.8},{"s":"DK-Sor","d":300,"v":1.2},{"s":"DK-Sor","d":310,"v":0.6},{"s":"DK-Sor","d":320,"v":0.4},{"s":"DK-Sor","d":330,"v":0.3},{"s":"DK-Sor","d":340,"v":0.3},{"s":"DK-Sor","d":350,"v":0.3},{"s":"DK-Sor","d":360,"v":0.3},{"s":"DK-Sor","d":365,"v":0.3},
{"s":"IT-Col","d":0,"v":0.2},{"s":"IT-Col","d":10,"v":0.2},{"s":"IT-Col","d":20,"v":0.2},{"s":"IT-Col","d":30,"v":0.2},{"s":"IT-Col","d":40,"v":0.2},{"s":"IT-Col","d":50,"v":0.2},{"s":"IT-Col","d":60,"v":0.2},{"s":"IT-Col","d":70,"v":0.2},{"s":"IT-Col","d":80,"v":0.3},{"s":"IT-Col","d":90,"v":0.3},{"s":"IT-Col","d":100,"v":0.3},{"s":"IT-Col","d":110,"v":0.6},{"s":"IT-Col","d":120,"v":1.6},{"s":"IT-Col","d":130,"v":5.6},{"s":"IT-Col","d":140,"v":8.0},{"s":"IT-Col","d":150,"v":9.4},{"s":"IT-Col","d":160,"v":10.6},{"s":"IT-Col","d":170,"v":12.0},{"s":"IT-Col","d":180,"v":12.4},{"s":"IT-Col","d":190,"v":11.0},{"s":"IT-Col","d":200,"v":10.0},{"s":"IT-Col","d":210,"v":9.8},{"s":"IT-Col","d":220,"v":9.2},{"s":"IT-Col","d":230,"v":8.6},{"s":"IT-Col","d":240,"v":7.4},{"s":"IT-Col","d":250,"v":6.4},{"s":"IT-Col","d":260,"v":5.6},{"s":"IT-Col","d":270,"v":4.6},{"s":"IT-Col","d":280,"v":3.6},{"s":"IT-Col","d":290,"v":2.0},{"s":"IT-Col","d":300,"v":0.8},{"s":"IT-Col","d":310,"v":0.4},{"s":"IT-Col","d":320,"v":0.3},{"s":"IT-Col","d":330,"v":0.2},{"s":"IT-Col","d":340,"v":0.2},{"s":"IT-Col","d":350,"v":0.2},{"s":"IT-Col","d":360,"v":0.2},{"s":"IT-Col","d":365,"v":0.2}
],
"e":[
{"s":"DE-Obe","d":0,"v":1.5},{"s":"DE-Obe","d":10,"v":1.2},{"s":"DE-Obe","d":20,"v":1.8},{"s":"DE-Obe","d":30,"v":1.4},{"s":"DE-Obe","d":40,"v":2.0},{"s":"DE-Obe","d":50,"v":2.4},{"s":"DE-Obe","d":60,"v":3.0},{"s":"DE-Obe","d":70,"v":3.8},{"s":"DE-Obe","d":80,"v":5.0},{"s":"DE-Obe","d":90,"v":6.4},{"s":"DE-Obe","d":100,"v":8.0},{"s":"DE-Obe","d":110,"v":9.0},{"s":"DE-Obe","d":120,"v":10.2},{"s":"DE-Obe","d":130,"v":12.6},{"s":"DE-Obe","d":140,"v":11.4},{"s":"DE-Obe","d":150,"v":13.0},{"s":"DE-Obe","d":160,"v":13.8},{"s":"DE-Obe","d":170,"v":14.6},{"s":"DE-Obe","d":180,"v":13.8},{"s":"DE-Obe","d":190,"v":19.6},{"s":"DE-Obe","d":200,"v":14.0},{"s":"DE-Obe","d":210,"v":13.6},{"s":"DE-Obe","d":220,"v":12.8},{"s":"DE-Obe","d":230,"v":14.8},{"s":"DE-Obe","d":240,"v":11.0},{"s":"DE-Obe","d":250,"v":10.0},{"s":"DE-Obe","d":260,"v":9.0},{"s":"DE-Obe","d":270,"v":8.4},{"s":"DE-Obe","d":280,"v":7.2},{"s":"DE-Obe","d":290,"v":6.0},{"s":"DE-Obe","d":300,"v":5.0},{"s":"DE-Obe","d":310,"v":4.0},{"s":"DE-Obe","d":320,"v":3.4},{"s":"DE-Obe","d":330,"v":2.6},{"s":"DE-Obe","d":340,"v":2.0},{"s":"DE-Obe","d":350,"v":1.6},{"s":"DE-Obe","d":360,"v":1.4},{"s":"DE-Obe","d":365,"v":1.5},
{"s":"DE-Tha","d":0,"v":1.4},{"s":"DE-Tha","d":10,"v":1.8},{"s":"DE-Tha","d":20,"v":1.6},{"s":"DE-Tha","d":30,"v":2.2},{"s":"DE-Tha","d":40,"v":2.0},{"s":"DE-Tha","d":50,"v":2.6},{"s":"DE-Tha","d":60,"v":3.2},{"s":"DE-Tha","d":70,"v":4.2},{"s":"DE-Tha","d":80,"v":5.6},{"s":"DE-Tha","d":90,"v":7.0},{"s":"DE-Tha","d":100,"v":8.6},{"s":"DE-Tha","d":110,"v":9.8},{"s":"DE-Tha","d":120,"v":10.6},{"s":"DE-Tha","d":130,"v":11.8},{"s":"DE-Tha","d":140,"v":12.6},{"s":"DE-Tha","d":150,"v":17.6},{"s":"DE-Tha","d":160,"v":15.4},{"s":"DE-Tha","d":170,"v":15.8},{"s":"DE-Tha","d":180,"v":14.6},{"s":"DE-Tha","d":190,"v":15.0},{"s":"DE-Tha","d":200,"v":14.0},{"s":"DE-Tha","d":210,"v":13.2},{"s":"DE-Tha","d":220,"v":12.6},{"s":"DE-Tha","d":230,"v":11.4},{"s":"DE-Tha","d":240,"v":10.6},{"s":"DE-Tha","d":250,"v":10.2},{"s":"DE-Tha","d":260,"v":9.2},{"s":"DE-Tha","d":270,"v":8.2},{"s":"DE-Tha","d":280,"v":7.2},{"s":"DE-Tha","d":290,"v":5.8},{"s":"DE-Tha","d":300,"v":4.6},{"s":"DE-Tha","d":310,"v":3.6},{"s":"DE-Tha","d":320,"v":2.8},{"s":"DE-Tha","d":330,"v":2.2},{"s":"DE-Tha","d":340,"v":1.8},{"s":"DE-Tha","d":350,"v":1.6},{"s":"DE-Tha","d":360,"v":1.5},{"s":"DE-Tha","d":365,"v":1.4},
{"s":"CH-Dav","d":0,"v":1.6},{"s":"CH-Dav","d":10,"v":2.0},{"s":"CH-Dav","d":20,"v":1.4},{"s":"CH-Dav","d":30,"v":2.6},{"s":"CH-Dav","d":40,"v":4.2},{"s":"CH-Dav","d":50,"v":2.8},{"s":"CH-Dav","d":60,"v":5.4},{"s":"CH-Dav","d":70,"v":7.6},{"s":"CH-Dav","d":80,"v":6.6},{"s":"CH-Dav","d":90,"v":7.2},{"s":"CH-Dav","d":100,"v":8.0},{"s":"CH-Dav","d":110,"v":8.4},{"s":"CH-Dav","d":120,"v":9.0},{"s":"CH-Dav","d":130,"v":9.6},{"s":"CH-Dav","d":140,"v":10.2},{"s":"CH-Dav","d":150,"v":9.8},{"s":"CH-Dav","d":160,"v":10.6},{"s":"CH-Dav","d":170,"v":11.0},{"s":"CH-Dav","d":180,"v":10.0},{"s":"CH-Dav","d":190,"v":8.8},{"s":"CH-Dav","d":200,"v":8.2},{"s":"CH-Dav","d":210,"v":9.4},{"s":"CH-Dav","d":220,"v":8.6},{"s":"CH-Dav","d":230,"v":8.0},{"s":"CH-Dav","d":240,"v":7.6},{"s":"CH-Dav","d":250,"v":7.0},{"s":"CH-Dav","d":260,"v":6.6},{"s":"CH-Dav","d":270,"v":6.2},{"s":"CH-Dav","d":280,"v":5.6},{"s":"CH-Dav","d":290,"v":4.8},{"s":"CH-Dav","d":300,"v":4.0},{"s":"CH-Dav","d":310,"v":3.4},{"s":"CH-Dav","d":320,"v":2.8},{"s":"CH-Dav","d":330,"v":2.4},{"s":"CH-Dav","d":340,"v":2.2},{"s":"CH-Dav","d":350,"v":2.0},{"s":"CH-Dav","d":360,"v":2.2},{"s":"CH-Dav","d":365,"v":2.0},
{"s":"IT-Ren","d":0,"v":1.0},{"s":"IT-Ren","d":10,"v":0.8},{"s":"IT-Ren","d":20,"v":1.0},{"s":"IT-Ren","d":30,"v":0.9},{"s":"IT-Ren","d":40,"v":1.1},{"s":"IT-Ren","d":50,"v":1.4},{"s":"IT-Ren","d":60,"v":2.0},{"s":"IT-Ren","d":70,"v":2.6},{"s":"IT-Ren","d":80,"v":3.4},{"s":"IT-Ren","d":90,"v":4.6},{"s":"IT-Ren","d":100,"v":6.0},{"s":"IT-Ren","d":110,"v":7.2},{"s":"IT-Ren","d":120,"v":8.4},{"s":"IT-Ren","d":130,"v":9.4},{"s":"IT-Ren","d":140,"v":10.0},{"s":"IT-Ren","d":150,"v":10.6},{"s":"IT-Ren","d":160,"v":11.0},{"s":"IT-Ren","d":170,"v":11.4},{"s":"IT-Ren","d":180,"v":11.0},{"s":"IT-Ren","d":190,"v":10.6},{"s":"IT-Ren","d":200,"v":10.8},{"s":"IT-Ren","d":210,"v":10.4},{"s":"IT-Ren","d":220,"v":10.0},{"s":"IT-Ren","d":230,"v":9.8},{"s":"IT-Ren","d":240,"v":9.6},{"s":"IT-Ren","d":250,"v":9.2},{"s":"IT-Ren","d":260,"v":8.8},{"s":"IT-Ren","d":270,"v":8.0},{"s":"IT-Ren","d":280,"v":7.0},{"s":"IT-Ren","d":290,"v":6.0},{"s":"IT-Ren","d":300,"v":4.8},{"s":"IT-Ren","d":310,"v":3.6},{"s":"IT-Ren","d":320,"v":2.6},{"s":"IT-Ren","d":330,"v":1.8},{"s":"IT-Ren","d":340,"v":1.4},{"s":"IT-Ren","d":350,"v":1.1},{"s":"IT-Ren","d":360,"v":1.0},{"s":"IT-Ren","d":365,"v":1.0},
{"s":"RU-Fyo","d":0,"v":0.6},{"s":"RU-Fyo","d":10,"v":0.4},{"s":"RU-Fyo","d":20,"v":0.3},{"s":"RU-Fyo","d":30,"v":0.3},{"s":"RU-Fyo","d":40,"v":0.5},{"s":"RU-Fyo","d":50,"v":0.8},{"s":"RU-Fyo","d":60,"v":1.4},{"s":"RU-Fyo","d":70,"v":2.0},{"s":"RU-Fyo","d":80,"v":2.6},{"s":"RU-Fyo","d":90,"v":3.4},{"s":"RU-Fyo","d":100,"v":4.4},{"s":"RU-Fyo","d":110,"v":5.6},{"s":"RU-Fyo","d":120,"v":7.4},{"s":"RU-Fyo","d":130,"v":9.0},{"s":"RU-Fyo","d":140,"v":10.6},{"s":"RU-Fyo","d":150,"v":12.0},{"s":"RU-Fyo","d":160,"v":13.6},{"s":"RU-Fyo","d":170,"v":14.6},{"s":"RU-Fyo","d":180,"v":15.2},{"s":"RU-Fyo","d":190,"v":15.6},{"s":"RU-Fyo","d":200,"v":16.4},{"s":"RU-Fyo","d":210,"v":14.8},{"s":"RU-Fyo","d":220,"v":13.2},{"s":"RU-Fyo","d":230,"v":12.0},{"s":"RU-Fyo","d":240,"v":11.0},{"s":"RU-Fyo","d":250,"v":9.6},{"s":"RU-Fyo","d":260,"v":8.2},{"s":"RU-Fyo","d":270,"v":6.8},{"s":"RU-Fyo","d":280,"v":5.4},{"s":"RU-Fyo","d":290,"v":4.2},{"s":"RU-Fyo","d":300,"v":3.0},{"s":"RU-Fyo","d":310,"v":2.0},{"s":"RU-Fyo","d":320,"v":1.4},{"s":"RU-Fyo","d":330,"v":1.0},{"s":"RU-Fyo","d":340,"v":0.8},{"s":"RU-Fyo","d":350,"v":0.6},{"s":"RU-Fyo","d":360,"v":0.5},{"s":"RU-Fyo","d":365,"v":0.5}
],
"f":[
{"s":"BE-Bra (MF)","d":0,"v":1.6},{"s":"BE-Bra (MF)","d":10,"v":1.2},{"s":"BE-Bra (MF)","d":20,"v":1.8},{"s":"BE-Bra (MF)","d":30,"v":2.0},{"s":"BE-Bra (MF)","d":40,"v":2.4},{"s":"BE-Bra (MF)","d":50,"v":2.8},{"s":"BE-Bra (MF)","d":60,"v":3.4},{"s":"BE-Bra (MF)","d":70,"v":4.2},{"s":"BE-Bra (MF)","d":80,"v":5.0},{"s":"BE-Bra (MF)","d":90,"v":5.4},{"s":"BE-Bra (MF)","d":100,"v":6.2},{"s":"BE-Bra (MF)","d":110,"v":7.0},{"s":"BE-Bra (MF)","d":120,"v":8.2},{"s":"BE-Bra (MF)","d":130,"v":9.2},{"s":"BE-Bra (MF)","d":140,"v":10.4},{"s":"BE-Bra (MF)","d":150,"v":11.2},{"s":"BE-Bra (MF)","d":160,"v":12.0},{"s":"BE-Bra (MF)","d":170,"v":12.8},{"s":"BE-Bra (MF)","d":180,"v":13.0},{"s":"BE-Bra (MF)","d":190,"v":12.6},{"s":"BE-Bra (MF)","d":200,"v":12.4},{"s":"BE-Bra (MF)","d":210,"v":12.2},{"s":"BE-Bra (MF)","d":220,"v":11.8},{"s":"BE-Bra (MF)","d":230,"v":11.0},{"s":"BE-Bra (MF)","d":240,"v":10.0},{"s":"BE-Bra (MF)","d":250,"v":9.2},{"s":"BE-Bra (MF)","d":260,"v":8.4},{"s":"BE-Bra (MF)","d":270,"v":7.4},{"s":"BE-Bra (MF)","d":280,"v":6.4},{"s":"BE-Bra (MF)","d":290,"v":5.4},{"s":"BE-Bra (MF)","d":300,"v":4.4},{"s":"BE-Bra (MF)","d":310,"v":3.6},{"s":"BE-Bra (MF)","d":320,"v":3.0},{"s":"BE-Bra (MF)","d":330,"v":2.4},{"s":"BE-Bra (MF)","d":340,"v":2.0},{"s":"BE-Bra (MF)","d":350,"v":1.8},{"s":"BE-Bra (MF)","d":360,"v":1.6},{"s":"BE-Bra (MF)","d":365,"v":1.8},
{"s":"NL-Loo","d":0,"v":1.4},{"s":"NL-Loo","d":10,"v":1.6},{"s":"NL-Loo","d":20,"v":1.8},{"s":"NL-Loo","d":30,"v":2.0},{"s":"NL-Loo","d":40,"v":2.4},{"s":"NL-Loo","d":50,"v":2.6},{"s":"NL-Loo","d":60,"v":3.0},{"s":"NL-Loo","d":70,"v":3.8},{"s":"NL-Loo","d":80,"v":4.6},{"s":"NL-Loo","d":90,"v":5.0},{"s":"NL-Loo","d":100,"v":5.6},{"s":"NL-Loo","d":110,"v":6.4},{"s":"NL-Loo","d":120,"v":7.2},{"s":"NL-Loo","d":130,"v":8.6},{"s":"NL-Loo","d":140,"v":9.6},{"s":"NL-Loo","d":150,"v":11.0},{"s":"NL-Loo","d":160,"v":12.0},{"s":"NL-Loo","d":170,"v":15.6},{"s":"NL-Loo","d":180,"v":13.0},{"s":"NL-Loo","d":190,"v":12.6},{"s":"NL-Loo","d":200,"v":12.2},{"s":"NL-Loo","d":210,"v":12.0},{"s":"NL-Loo","d":220,"v":13.8},{"s":"NL-Loo","d":230,"v":12.0},{"s":"NL-Loo","d":240,"v":11.0},{"s":"NL-Loo","d":250,"v":9.8},{"s":"NL-Loo","d":260,"v":9.0},{"s":"NL-Loo","d":270,"v":7.6},{"s":"NL-Loo","d":280,"v":6.6},{"s":"NL-Loo","d":290,"v":5.6},{"s":"NL-Loo","d":300,"v":4.6},{"s":"NL-Loo","d":310,"v":3.8},{"s":"NL-Loo","d":320,"v":3.2},{"s":"NL-Loo","d":330,"v":2.6},{"s":"NL-Loo","d":340,"v":2.0},{"s":"NL-Loo","d":350,"v":1.6},{"s":"NL-Loo","d":360,"v":1.5},{"s":"NL-Loo","d":365,"v":1.5},
{"s":"FI-Hyy","d":0,"v":0.3},{"s":"FI-Hyy","d":10,"v":0.3},{"s":"FI-Hyy","d":20,"v":0.4},{"s":"FI-Hyy","d":30,"v":0.4},{"s":"FI-Hyy","d":40,"v":0.5},{"s":"FI-Hyy","d":50,"v":0.7},{"s":"FI-Hyy","d":60,"v":1.4},{"s":"FI-Hyy","d":70,"v":1.8},{"s":"FI-Hyy","d":80,"v":2.4},{"s":"FI-Hyy","d":90,"v":3.0},{"s":"FI-Hyy","d":100,"v":3.8},{"s":"FI-Hyy","d":110,"v":4.6},{"s":"FI-Hyy","d":120,"v":5.4},{"s":"FI-Hyy","d":130,"v":6.4},{"s":"FI-Hyy","d":140,"v":7.4},{"s":"FI-Hyy","d":150,"v":8.6},{"s":"FI-Hyy","d":160,"v":9.8},{"s":"FI-Hyy","d":170,"v":10.6},{"s":"FI-Hyy","d":180,"v":11.0},{"s":"FI-Hyy","d":190,"v":11.2},{"s":"FI-Hyy","d":200,"v":11.0},{"s":"FI-Hyy","d":210,"v":10.4},{"s":"FI-Hyy","d":220,"v":9.8},{"s":"FI-Hyy","d":230,"v":9.0},{"s":"FI-Hyy","d":240,"v":8.0},{"s":"FI-Hyy","d":250,"v":6.8},{"s":"FI-Hyy","d":260,"v":5.4},{"s":"FI-Hyy","d":270,"v":4.2},{"s":"FI-Hyy","d":280,"v":3.0},{"s":"FI-Hyy","d":290,"v":2.0},{"s":"FI-Hyy","d":300,"v":1.4},{"s":"FI-Hyy","d":310,"v":0.9},{"s":"FI-Hyy","d":320,"v":0.6},{"s":"FI-Hyy","d":330,"v":0.4},{"s":"FI-Hyy","d":340,"v":0.3},{"s":"FI-Hyy","d":350,"v":0.3},{"s":"FI-Hyy","d":360,"v":0.3},{"s":"FI-Hyy","d":365,"v":0.3},
{"s":"FI-Sod","d":0,"v":0.2},{"s":"FI-Sod","d":10,"v":0.2},{"s":"FI-Sod","d":20,"v":0.2},{"s":"FI-Sod","d":30,"v":0.2},{"s":"FI-Sod","d":40,"v":0.2},{"s":"FI-Sod","d":50,"v":0.2},{"s":"FI-Sod","d":60,"v":0.2},{"s":"FI-Sod","d":70,"v":0.3},{"s":"FI-Sod","d":80,"v":0.3},{"s":"FI-Sod","d":90,"v":0.4},{"s":"FI-Sod","d":100,"v":0.5},{"s":"FI-Sod","d":110,"v":0.8},{"s":"FI-Sod","d":120,"v":1.4},{"s":"FI-Sod","d":130,"v":2.4},{"s":"FI-Sod","d":140,"v":3.4},{"s":"FI-Sod","d":150,"v":4.6},{"s":"FI-Sod","d":160,"v":5.8},{"s":"FI-Sod","d":170,"v":6.8},{"s":"FI-Sod","d":180,"v":7.4},{"s":"FI-Sod","d":190,"v":8.2},{"s":"FI-Sod","d":200,"v":8.6},{"s":"FI-Sod","d":210,"v":7.8},{"s":"FI-Sod","d":220,"v":7.0},{"s":"FI-Sod","d":230,"v":6.0},{"s":"FI-Sod","d":240,"v":5.0},{"s":"FI-Sod","d":250,"v":4.0},{"s":"FI-Sod","d":260,"v":3.0},{"s":"FI-Sod","d":270,"v":2.2},{"s":"FI-Sod","d":280,"v":1.4},{"s":"FI-Sod","d":290,"v":0.9},{"s":"FI-Sod","d":300,"v":0.5},{"s":"FI-Sod","d":310,"v":0.3},{"s":"FI-Sod","d":320,"v":0.3},{"s":"FI-Sod","d":330,"v":0.4},{"s":"FI-Sod","d":340,"v":0.4},{"s":"FI-Sod","d":350,"v":0.5},{"s":"FI-Sod","d":360,"v":0.5},{"s":"FI-Sod","d":365,"v":0.6},
{"s":"FR-LBr","d":0,"v":3.0},{"s":"FR-LBr","d":10,"v":3.2},{"s":"FR-LBr","d":20,"v":3.4},{"s":"FR-LBr","d":30,"v":3.6},{"s":"FR-LBr","d":40,"v":3.8},{"s":"FR-LBr","d":50,"v":4.2},{"s":"FR-LBr","d":60,"v":4.6},{"s":"FR-LBr","d":70,"v":5.0},{"s":"FR-LBr","d":80,"v":5.6},{"s":"FR-LBr","d":90,"v":6.2},{"s":"FR-LBr","d":100,"v":7.0},{"s":"FR-LBr","d":110,"v":7.8},{"s":"FR-LBr","d":120,"v":8.8},{"s":"FR-LBr","d":130,"v":9.8},{"s":"FR-LBr","d":140,"v":11.0},{"s":"FR-LBr","d":150,"v":12.0},{"s":"FR-LBr","d":160,"v":12.8},{"s":"FR-LBr","d":170,"v":13.4},{"s":"FR-LBr","d":180,"v":13.4},{"s":"FR-LBr","d":190,"v":12.6},{"s":"FR-LBr","d":200,"v":12.0},{"s":"FR-LBr","d":210,"v":11.4},{"s":"FR-LBr","d":220,"v":11.0},{"s":"FR-LBr","d":230,"v":10.4},{"s":"FR-LBr","d":240,"v":9.8},{"s":"FR-LBr","d":250,"v":9.2},{"s":"FR-LBr","d":260,"v":8.6},{"s":"FR-LBr","d":270,"v":8.0},{"s":"FR-LBr","d":280,"v":7.2},{"s":"FR-LBr","d":290,"v":6.6},{"s":"FR-LBr","d":300,"v":6.0},{"s":"FR-LBr","d":310,"v":5.4},{"s":"FR-LBr","d":320,"v":5.0},{"s":"FR-LBr","d":330,"v":4.4},{"s":"FR-LBr","d":340,"v":4.0},{"s":"FR-LBr","d":350,"v":3.8},{"s":"FR-LBr","d":360,"v":3.6},{"s":"FR-LBr","d":365,"v":3.4},
{"s":"IT-SRo","d":0,"v":4.2},{"s":"IT-SRo","d":10,"v":5.0},{"s":"IT-SRo","d":20,"v":4.6},{"s":"IT-SRo","d":30,"v":5.4},{"s":"IT-SRo","d":40,"v":5.8},{"s":"IT-SRo","d":50,"v":6.2},{"s":"IT-SRo","d":60,"v":6.8},{"s":"IT-SRo","d":70,"v":8.6},{"s":"IT-SRo","d":80,"v":9.6},{"s":"IT-SRo","d":90,"v":10.6},{"s":"IT-SRo","d":100,"v":10.4},{"s":"IT-SRo","d":110,"v":10.8},{"s":"IT-SRo","d":120,"v":11.4},{"s":"IT-SRo","d":130,"v":12.0},{"s":"IT-SRo","d":140,"v":12.6},{"s":"IT-SRo","d":150,"v":13.4},{"s":"IT-SRo","d":160,"v":15.8},{"s":"IT-SRo","d":170,"v":13.6},{"s":"IT-SRo","d":180,"v":12.6},{"s":"IT-SRo","d":190,"v":11.8},{"s":"IT-SRo","d":200,"v":11.0},{"s":"IT-SRo","d":210,"v":10.4},{"s":"IT-SRo","d":220,"v":10.2},{"s":"IT-SRo","d":230,"v":9.6},{"s":"IT-SRo","d":240,"v":9.2},{"s":"IT-SRo","d":250,"v":8.6},{"s":"IT-SRo","d":260,"v":8.2},{"s":"IT-SRo","d":270,"v":7.6},{"s":"IT-SRo","d":280,"v":7.0},{"s":"IT-SRo","d":290,"v":6.4},{"s":"IT-SRo","d":300,"v":6.0},{"s":"IT-SRo","d":310,"v":5.4},{"s":"IT-SRo","d":320,"v":5.0},{"s":"IT-SRo","d":330,"v":4.6},{"s":"IT-SRo","d":340,"v":4.2},{"s":"IT-SRo","d":350,"v":3.8},{"s":"IT-SRo","d":360,"v":3.6},{"s":"IT-SRo","d":365,"v":3.4}
],
"g":[
{"s":"FR-Fon","d":0,"v":1.6},{"s":"FR-Fon","d":10,"v":1.2},{"s":"FR-Fon","d":20,"v":1.0},{"s":"FR-Fon","d":30,"v":0.9},{"s":"FR-Fon","d":40,"v":1.0},{"s":"FR-Fon","d":50,"v":1.2},{"s":"FR-Fon","d":60,"v":1.0},{"s":"FR-Fon","d":70,"v":1.4},{"s":"FR-Fon","d":80,"v":2.0},{"s":"FR-Fon","d":90,"v":2.8},{"s":"FR-Fon","d":100,"v":4.0},{"s":"FR-Fon","d":110,"v":6.0},{"s":"FR-Fon","d":120,"v":9.0},{"s":"FR-Fon","d":130,"v":11.6},{"s":"FR-Fon","d":140,"v":13.4},{"s":"FR-Fon","d":150,"v":16.6},{"s":"FR-Fon","d":160,"v":15.8},{"s":"FR-Fon","d":170,"v":16.0},{"s":"FR-Fon","d":180,"v":15.2},{"s":"FR-Fon","d":190,"v":17.6},{"s":"FR-Fon","d":200,"v":15.0},{"s":"FR-Fon","d":210,"v":14.0},{"s":"FR-Fon","d":220,"v":12.8},{"s":"FR-Fon","d":230,"v":11.6},{"s":"FR-Fon","d":240,"v":10.4},{"s":"FR-Fon","d":250,"v":9.4},{"s":"FR-Fon","d":260,"v":8.2},{"s":"FR-Fon","d":270,"v":7.0},{"s":"FR-Fon","d":280,"v":5.8},{"s":"FR-Fon","d":290,"v":4.6},{"s":"FR-Fon","d":300,"v":3.6},{"s":"FR-Fon","d":310,"v":2.8},{"s":"FR-Fon","d":320,"v":2.4},{"s":"FR-Fon","d":330,"v":2.2},{"s":"FR-Fon","d":340,"v":2.0},{"s":"FR-Fon","d":350,"v":2.8},{"s":"FR-Fon","d":360,"v":2.2},{"s":"FR-Fon","d":365,"v":2.0},
{"s":"FR-Pue","d":0,"v":2.6},{"s":"FR-Pue","d":10,"v":3.0},{"s":"FR-Pue","d":20,"v":3.4},{"s":"FR-Pue","d":30,"v":3.8},{"s":"FR-Pue","d":40,"v":4.2},{"s":"FR-Pue","d":50,"v":4.6},{"s":"FR-Pue","d":60,"v":5.0},{"s":"FR-Pue","d":70,"v":5.6},{"s":"FR-Pue","d":80,"v":5.8},{"s":"FR-Pue","d":90,"v":6.0},{"s":"FR-Pue","d":100,"v":6.2},{"s":"FR-Pue","d":110,"v":6.8},{"s":"FR-Pue","d":120,"v":7.2},{"s":"FR-Pue","d":130,"v":7.6},{"s":"FR-Pue","d":140,"v":8.0},{"s":"FR-Pue","d":150,"v":8.4},{"s":"FR-Pue","d":160,"v":8.6},{"s":"FR-Pue","d":170,"v":8.2},{"s":"FR-Pue","d":180,"v":8.0},{"s":"FR-Pue","d":190,"v":7.6},{"s":"FR-Pue","d":200,"v":7.0},{"s":"FR-Pue","d":210,"v":4.4},{"s":"FR-Pue","d":220,"v":3.4},{"s":"FR-Pue","d":230,"v":4.0},{"s":"FR-Pue","d":240,"v":5.0},{"s":"FR-Pue","d":250,"v":5.6},{"s":"FR-Pue","d":260,"v":6.0},{"s":"FR-Pue","d":270,"v":5.8},{"s":"FR-Pue","d":280,"v":5.6},{"s":"FR-Pue","d":290,"v":5.4},{"s":"FR-Pue","d":300,"v":5.0},{"s":"FR-Pue","d":310,"v":4.6},{"s":"FR-Pue","d":320,"v":4.2},{"s":"FR-Pue","d":330,"v":3.6},{"s":"FR-Pue","d":340,"v":3.0},{"s":"FR-Pue","d":350,"v":2.6},{"s":"FR-Pue","d":360,"v":2.2},{"s":"FR-Pue","d":365,"v":2.0},
{"s":"IT-Cpz","d":0,"v":4.6},{"s":"IT-Cpz","d":10,"v":4.2},{"s":"IT-Cpz","d":20,"v":4.8},{"s":"IT-Cpz","d":30,"v":5.6},{"s":"IT-Cpz","d":40,"v":6.4},{"s":"IT-Cpz","d":50,"v":6.6},{"s":"IT-Cpz","d":60,"v":7.2},{"s":"IT-Cpz","d":70,"v":7.8},{"s":"IT-Cpz","d":80,"v":7.4},{"s":"IT-Cpz","d":90,"v":8.2},{"s":"IT-Cpz","d":100,"v":8.8},{"s":"IT-Cpz","d":110,"v":9.6},{"s":"IT-Cpz","d":120,"v":10.2},{"s":"IT-Cpz","d":130,"v":11.0},{"s":"IT-Cpz","d":140,"v":12.2},{"s":"IT-Cpz","d":150,"v":12.6},{"s":"IT-Cpz","d":160,"v":11.6},{"s":"IT-Cpz","d":170,"v":10.6},{"s":"IT-Cpz","d":180,"v":10.0},{"s":"IT-Cpz","d":190,"v":9.6},{"s":"IT-Cpz","d":200,"v":9.4},{"s":"IT-Cpz","d":210,"v":9.0},{"s":"IT-Cpz","d":220,"v":8.4},{"s":"IT-Cpz","d":230,"v":8.0},{"s":"IT-Cpz","d":240,"v":7.6},{"s":"IT-Cpz","d":250,"v":7.2},{"s":"IT-Cpz","d":260,"v":6.8},{"s":"IT-Cpz","d":270,"v":6.6},{"s":"IT-Cpz","d":280,"v":6.2},{"s":"IT-Cpz","d":290,"v":5.6},{"s":"IT-Cpz","d":300,"v":5.2},{"s":"IT-Cpz","d":310,"v":4.8},{"s":"IT-Cpz","d":320,"v":4.6},{"s":"IT-Cpz","d":330,"v":4.4},{"s":"IT-Cpz","d":340,"v":4.0},{"s":"IT-Cpz","d":350,"v":3.8},{"s":"IT-Cpz","d":360,"v":3.6},{"s":"IT-Cpz","d":365,"v":3.6},
{"s":"IT-Ro1","d":0,"v":1.2},{"s":"IT-Ro1","d":10,"v":0.8},{"s":"IT-Ro1","d":20,"v":1.0},{"s":"IT-Ro1","d":30,"v":1.4},{"s":"IT-Ro1","d":40,"v":1.6},{"s":"IT-Ro1","d":50,"v":2.0},{"s":"IT-Ro1","d":60,"v":2.2},{"s":"IT-Ro1","d":70,"v":2.6},{"s":"IT-Ro1","d":80,"v":3.2},{"s":"IT-Ro1","d":90,"v":4.0},{"s":"IT-Ro1","d":100,"v":5.0},{"s":"IT-Ro1","d":110,"v":7.0},{"s":"IT-Ro1","d":120,"v":9.4},{"s":"IT-Ro1","d":130,"v":11.6},{"s":"IT-Ro1","d":140,"v":13.4},{"s":"IT-Ro1","d":150,"v":14.4},{"s":"IT-Ro1","d":160,"v":13.8},{"s":"IT-Ro1","d":170,"v":12.6},{"s":"IT-Ro1","d":180,"v":11.4},{"s":"IT-Ro1","d":190,"v":10.6},{"s":"IT-Ro1","d":200,"v":10.0},{"s":"IT-Ro1","d":210,"v":9.4},{"s":"IT-Ro1","d":220,"v":8.6},{"s":"IT-Ro1","d":230,"v":8.0},{"s":"IT-Ro1","d":240,"v":7.4},{"s":"IT-Ro1","d":250,"v":7.0},{"s":"IT-Ro1","d":260,"v":6.8},{"s":"IT-Ro1","d":270,"v":6.4},{"s":"IT-Ro1","d":280,"v":6.2},{"s":"IT-Ro1","d":290,"v":5.8},{"s":"IT-Ro1","d":300,"v":4.8},{"s":"IT-Ro1","d":310,"v":3.6},{"s":"IT-Ro1","d":320,"v":2.6},{"s":"IT-Ro1","d":330,"v":1.8},{"s":"IT-Ro1","d":340,"v":1.4},{"s":"IT-Ro1","d":350,"v":1.2},{"s":"IT-Ro1","d":360,"v":1.0},{"s":"IT-Ro1","d":365,"v":1.0},
{"s":"IT-Ro2","d":0,"v":0.5},{"s":"IT-Ro2","d":10,"v":0.4},{"s":"IT-Ro2","d":20,"v":0.5},{"s":"IT-Ro2","d":30,"v":0.4},{"s":"IT-Ro2","d":40,"v":0.5},{"s":"IT-Ro2","d":50,"v":0.5},{"s":"IT-Ro2","d":60,"v":0.6},{"s":"IT-Ro2","d":70,"v":0.7},{"s":"IT-Ro2","d":80,"v":0.9},{"s":"IT-Ro2","d":90,"v":1.2},{"s":"IT-Ro2","d":100,"v":1.8},{"s":"IT-Ro2","d":110,"v":4.6},{"s":"IT-Ro2","d":120,"v":8.4},{"s":"IT-Ro2","d":130,"v":11.4},{"s":"IT-Ro2","d":140,"v":13.6},{"s":"IT-Ro2","d":150,"v":15.0},{"s":"IT-Ro2","d":160,"v":14.4},{"s":"IT-Ro2","d":170,"v":14.0},{"s":"IT-Ro2","d":180,"v":13.4},{"s":"IT-Ro2","d":190,"v":12.6},{"s":"IT-Ro2","d":200,"v":11.8},{"s":"IT-Ro2","d":210,"v":11.0},{"s":"IT-Ro2","d":220,"v":10.2},{"s":"IT-Ro2","d":230,"v":9.6},{"s":"IT-Ro2","d":240,"v":9.0},{"s":"IT-Ro2","d":250,"v":8.6},{"s":"IT-Ro2","d":260,"v":8.0},{"s":"IT-Ro2","d":270,"v":7.4},{"s":"IT-Ro2","d":280,"v":6.8},{"s":"IT-Ro2","d":290,"v":6.0},{"s":"IT-Ro2","d":300,"v":5.2},{"s":"IT-Ro2","d":310,"v":4.4},{"s":"IT-Ro2","d":320,"v":3.4},{"s":"IT-Ro2","d":330,"v":2.4},{"s":"IT-Ro2","d":340,"v":1.4},{"s":"IT-Ro2","d":350,"v":1.0},{"s":"IT-Ro2","d":360,"v":0.6},{"s":"IT-Ro2","d":365,"v":0.5}
],
"h":[
{"s":"BE-Vie (MF)","d":0,"v":1.8},{"s":"BE-Vie (MF)","d":10,"v":1.6},{"s":"BE-Vie (MF)","d":20,"v":1.8},{"s":"BE-Vie (MF)","d":30,"v":2.0},{"s":"BE-Vie (MF)","d":40,"v":2.4},{"s":"BE-Vie (MF)","d":50,"v":3.0},{"s":"BE-Vie (MF)","d":60,"v":3.6},{"s":"BE-Vie (MF)","d":70,"v":4.6},{"s":"BE-Vie (MF)","d":80,"v":5.6},{"s":"BE-Vie (MF)","d":90,"v":6.6},{"s":"BE-Vie (MF)","d":100,"v":7.6},{"s":"BE-Vie (MF)","d":110,"v":8.6},{"s":"BE-Vie (MF)","d":120,"v":9.6},{"s":"BE-Vie (MF)","d":130,"v":10.6},{"s":"BE-Vie (MF)","d":140,"v":12.0},{"s":"BE-Vie (MF)","d":150,"v":13.2},{"s":"BE-Vie (MF)","d":160,"v":13.8},{"s":"BE-Vie (MF)","d":170,"v":14.2},{"s":"BE-Vie (MF)","d":180,"v":14.6},{"s":"BE-Vie (MF)","d":190,"v":14.4},{"s":"BE-Vie (MF)","d":200,"v":16.8},{"s":"BE-Vie (MF)","d":210,"v":13.0},{"s":"BE-Vie (MF)","d":220,"v":12.4},{"s":"BE-Vie (MF)","d":230,"v":11.0},{"s":"BE-Vie (MF)","d":240,"v":10.2},{"s":"BE-Vie (MF)","d":250,"v":9.6},{"s":"BE-Vie (MF)","d":260,"v":9.0},{"s":"BE-Vie (MF)","d":270,"v":8.4},{"s":"BE-Vie (MF)","d":280,"v":7.6},{"s":"BE-Vie (MF)","d":290,"v":6.6},{"s":"BE-Vie (MF)","d":300,"v":5.4},{"s":"BE-Vie (MF)","d":310,"v":4.4},{"s":"BE-Vie (MF)","d":320,"v":3.6},{"s":"BE-Vie (MF)","d":330,"v":3.0},{"s":"BE-Vie (MF)","d":340,"v":2.4},{"s":"BE-Vie (MF)","d":350,"v":2.0},{"s":"BE-Vie (MF)","d":360,"v":1.8},{"s":"BE-Vie (MF)","d":365,"v":1.6},
{"s":"CH-Lae (MF)","d":0,"v":4.0},{"s":"CH-Lae (MF)","d":10,"v":6.2},{"s":"CH-Lae (MF)","d":20,"v":11.0},{"s":"CH-Lae (MF)","d":30,"v":3.2},{"s":"CH-Lae (MF)","d":40,"v":10.2},{"s":"CH-Lae (MF)","d":50,"v":4.4},{"s":"CH-Lae (MF)","d":60,"v":5.6},{"s":"CH-Lae (MF)","d":70,"v":6.8},{"s":"CH-Lae (MF)","d":80,"v":5.8},{"s":"CH-Lae (MF)","d":90,"v":7.4},{"s":"CH-Lae (MF)","d":100,"v":8.0},{"s":"CH-Lae (MF)","d":110,"v":9.0},{"s":"CH-Lae (MF)","d":120,"v":10.4},{"s":"CH-Lae (MF)","d":130,"v":11.6},{"s":"CH-Lae (MF)","d":140,"v":12.6},{"s":"CH-Lae (MF)","d":150,"v":14.0},{"s":"CH-Lae (MF)","d":160,"v":14.4},{"s":"CH-Lae (MF)","d":170,"v":13.0},{"s":"CH-Lae (MF)","d":180,"v":14.6},{"s":"CH-Lae (MF)","d":190,"v":12.4},{"s":"CH-Lae (MF)","d":200,"v":12.0},{"s":"CH-Lae (MF)","d":210,"v":11.2},{"s":"CH-Lae (MF)","d":220,"v":10.6},{"s":"CH-Lae (MF)","d":230,"v":10.2},{"s":"CH-Lae (MF)","d":240,"v":9.6},{"s":"CH-Lae (MF)","d":250,"v":9.2},{"s":"CH-Lae (MF)","d":260,"v":8.6},{"s":"CH-Lae (MF)","d":270,"v":10.4},{"s":"CH-Lae (MF)","d":280,"v":9.0},{"s":"CH-Lae (MF)","d":290,"v":7.8},{"s":"CH-Lae (MF)","d":300,"v":12.6},{"s":"CH-Lae (MF)","d":310,"v":7.2},{"s":"CH-Lae (MF)","d":320,"v":11.4},{"s":"CH-Lae (MF)","d":330,"v":6.0},{"s":"CH-Lae (MF)","d":340,"v":9.6},{"s":"CH-Lae (MF)","d":350,"v":5.2},{"s":"CH-Lae (MF)","d":360,"v":4.4},{"s":"CH-Lae (MF)","d":365,"v":3.2},
{"s":"DE-Hai","d":0,"v":0.5},{"s":"DE-Hai","d":10,"v":0.4},{"s":"DE-Hai","d":20,"v":0.5},{"s":"DE-Hai","d":30,"v":0.5},{"s":"DE-Hai","d":40,"v":0.6},{"s":"DE-Hai","d":50,"v":0.6},{"s":"DE-Hai","d":60,"v":0.7},{"s":"DE-Hai","d":70,"v":0.8},{"s":"DE-Hai","d":80,"v":1.0},{"s":"DE-Hai","d":90,"v":1.4},{"s":"DE-Hai","d":100,"v":2.2},{"s":"DE-Hai","d":110,"v":3.4},{"s":"DE-Hai","d":120,"v":6.4},{"s":"DE-Hai","d":130,"v":10.6},{"s":"DE-Hai","d":140,"v":13.4},{"s":"DE-Hai","d":150,"v":15.0},{"s":"DE-Hai","d":160,"v":15.8},{"s":"DE-Hai","d":170,"v":16.2},{"s":"DE-Hai","d":180,"v":15.4},{"s":"DE-Hai","d":190,"v":14.8},{"s":"DE-Hai","d":200,"v":14.0},{"s":"DE-Hai","d":210,"v":13.2},{"s":"DE-Hai","d":220,"v":12.4},{"s":"DE-Hai","d":230,"v":11.6},{"s":"DE-Hai","d":240,"v":10.6},{"s":"DE-Hai","d":250,"v":9.8},{"s":"DE-Hai","d":260,"v":8.8},{"s":"DE-Hai","d":270,"v":7.6},{"s":"DE-Hai","d":280,"v":6.0},{"s":"DE-Hai","d":290,"v":3.8},{"s":"DE-Hai","d":300,"v":1.8},{"s":"DE-Hai","d":310,"v":0.9},{"s":"DE-Hai","d":320,"v":0.6},{"s":"DE-Hai","d":330,"v":0.5},{"s":"DE-Hai","d":340,"v":0.5},{"s":"DE-Hai","d":350,"v":0.4},{"s":"DE-Hai","d":360,"v":0.5},{"s":"DE-Hai","d":365,"v":0.5},
{"s":"DE-Lnf","d":0,"v":0.5},{"s":"DE-Lnf","d":10,"v":0.6},{"s":"DE-Lnf","d":20,"v":0.6},{"s":"DE-Lnf","d":30,"v":0.6},{"s":"DE-Lnf","d":40,"v":0.7},{"s":"DE-Lnf","d":50,"v":0.7},{"s":"DE-Lnf","d":60,"v":0.8},{"s":"DE-Lnf","d":70,"v":0.9},{"s":"DE-Lnf","d":80,"v":1.0},{"s":"DE-Lnf","d":90,"v":1.6},{"s":"DE-Lnf","d":100,"v":2.4},{"s":"DE-Lnf","d":110,"v":3.6},{"s":"DE-Lnf","d":120,"v":7.0},{"s":"DE-Lnf","d":130,"v":11.4},{"s":"DE-Lnf","d":140,"v":14.6},{"s":"DE-Lnf","d":150,"v":15.6},{"s":"DE-Lnf","d":160,"v":16.8},{"s":"DE-Lnf","d":170,"v":17.6},{"s":"DE-Lnf","d":180,"v":15.6},{"s":"DE-Lnf","d":190,"v":15.0},{"s":"DE-Lnf","d":200,"v":14.0},{"s":"DE-Lnf","d":210,"v":13.4},{"s":"DE-Lnf","d":220,"v":12.8},{"s":"DE-Lnf","d":230,"v":12.0},{"s":"DE-Lnf","d":240,"v":11.0},{"s":"DE-Lnf","d":250,"v":10.0},{"s":"DE-Lnf","d":260,"v":9.0},{"s":"DE-Lnf","d":270,"v":7.8},{"s":"DE-Lnf","d":280,"v":6.0},{"s":"DE-Lnf","d":290,"v":3.6},{"s":"DE-Lnf","d":300,"v":1.6},{"s":"DE-Lnf","d":310,"v":0.9},{"s":"DE-Lnf","d":320,"v":0.6},{"s":"DE-Lnf","d":330,"v":0.6},{"s":"DE-Lnf","d":340,"v":0.5},{"s":"DE-Lnf","d":350,"v":0.5},{"s":"DE-Lnf","d":360,"v":0.5},{"s":"DE-Lnf","d":365,"v":0.5},
{"s":"DK-Sor","d":0,"v":0.8},{"s":"DK-Sor","d":10,"v":1.0},{"s":"DK-Sor","d":20,"v":1.2},{"s":"DK-Sor","d":30,"v":1.4},{"s":"DK-Sor","d":40,"v":1.6},{"s":"DK-Sor","d":50,"v":1.8},{"s":"DK-Sor","d":60,"v":2.0},{"s":"DK-Sor","d":70,"v":2.2},{"s":"DK-Sor","d":80,"v":2.4},{"s":"DK-Sor","d":90,"v":2.8},{"s":"DK-Sor","d":100,"v":3.4},{"s":"DK-Sor","d":110,"v":4.6},{"s":"DK-Sor","d":120,"v":7.4},{"s":"DK-Sor","d":130,"v":11.6},{"s":"DK-Sor","d":140,"v":15.0},{"s":"DK-Sor","d":150,"v":19.0},{"s":"DK-Sor","d":160,"v":21.0},{"s":"DK-Sor","d":170,"v":21.0},{"s":"DK-Sor","d":180,"v":19.6},{"s":"DK-Sor","d":190,"v":18.0},{"s":"DK-Sor","d":200,"v":16.0},{"s":"DK-Sor","d":210,"v":15.0},{"s":"DK-Sor","d":220,"v":14.2},{"s":"DK-Sor","d":230,"v":13.0},{"s":"DK-Sor","d":240,"v":11.6},{"s":"DK-Sor","d":250,"v":10.4},{"s":"DK-Sor","d":260,"v":9.2},{"s":"DK-Sor","d":270,"v":8.0},{"s":"DK-Sor","d":280,"v":6.4},{"s":"DK-Sor","d":290,"v":4.2},{"s":"DK-Sor","d":300,"v":2.2},{"s":"DK-Sor","d":310,"v":1.2},{"s":"DK-Sor","d":320,"v":0.9},{"s":"DK-Sor","d":330,"v":0.8},{"s":"DK-Sor","d":340,"v":0.8},{"s":"DK-Sor","d":350,"v":0.8},{"s":"DK-Sor","d":360,"v":0.8},{"s":"DK-Sor","d":365,"v":0.8},
{"s":"IT-Col","d":0,"v":0.2},{"s":"IT-Col","d":10,"v":0.2},{"s":"IT-Col","d":20,"v":0.2},{"s":"IT-Col","d":30,"v":0.2},{"s":"IT-Col","d":40,"v":0.2},{"s":"IT-Col","d":50,"v":0.3},{"s":"IT-Col","d":60,"v":0.3},{"s":"IT-Col","d":70,"v":0.3},{"s":"IT-Col","d":80,"v":0.4},{"s":"IT-Col","d":90,"v":0.6},{"s":"IT-Col","d":100,"v":0.9},{"s":"IT-Col","d":110,"v":2.4},{"s":"IT-Col","d":120,"v":6.0},{"s":"IT-Col","d":130,"v":10.4},{"s":"IT-Col","d":140,"v":12.6},{"s":"IT-Col","d":150,"v":13.6},{"s":"IT-Col","d":160,"v":14.0},{"s":"IT-Col","d":170,"v":14.6},{"s":"IT-Col","d":180,"v":13.8},{"s":"IT-Col","d":190,"v":13.2},{"s":"IT-Col","d":200,"v":12.6},{"s":"IT-Col","d":210,"v":12.0},{"s":"IT-Col","d":220,"v":11.4},{"s":"IT-Col","d":230,"v":10.6},{"s":"IT-Col","d":240,"v":9.0},{"s":"IT-Col","d":250,"v":7.6},{"s":"IT-Col","d":260,"v":7.0},{"s":"IT-Col","d":270,"v":6.0},{"s":"IT-Col","d":280,"v":5.0},{"s":"IT-Col","d":290,"v":3.2},{"s":"IT-Col","d":300,"v":1.4},{"s":"IT-Col","d":310,"v":0.6},{"s":"IT-Col","d":320,"v":0.4},{"s":"IT-Col","d":330,"v":0.3},{"s":"IT-Col","d":340,"v":0.2},{"s":"IT-Col","d":350,"v":0.2},{"s":"IT-Col","d":360,"v":0.2},{"s":"IT-Col","d":365,"v":0.2}
]
},
"vconcat":[
{
"columns":4,
"bounds":"flush",
"spacing":{"row":71,"column":65},
"resolve":{"scale":{"color":"independent"},"legend":{"color":"independent"}},
"concat":[
{"title":{"text":"Dominant species: Picea Abies","offset":-2},"width":215,"height":183,"layer":[
{"data":{"name":"a"},"mark":{"type":"line","strokeWidth":1,"opacity":0.7,"clip":true},"encoding":{"x":{"field":"d","type":"quantitative","scale":{"domain":[0,365],"nice":false},"axis":{"values":[0,100,200,300],"title":"day of the year"}},"y":{"field":"v","type":"quantitative","scale":{"domain":[0,20],"nice":false},"axis":{"values":[0,2.5,5,7.5,10,12.5,15,17.5,20],"format":".1f","title":"mean GPP cycle (gC m⁻² day⁻¹)"}},"color":{"field":"s","type":"nominal","sort":null,"scale":{"domain":["DE-Obe","DE-Tha","CH-Dav","IT-Ren","RU-Fyo"],"range":["#440154","#3b528b","#21918c","#5ec962","#fde725"]},"legend":{"title":null}}}},
{"data":{"values":[{"t":"(a)"}]},"mark":{"type":"text","font":"Liberation Serif","fontSize":13,"align":"right","baseline":"middle","color":"#111"},"encoding":{"x":{"datum":347},"y":{"datum":18.6},"text":{"field":"t"}}}]},
{"title":{"text":"Dominant species: Pinus Species","offset":-2},"width":215,"height":183,"layer":[
{"data":{"name":"b"},"mark":{"type":"line","strokeWidth":1,"opacity":0.7,"clip":true},"encoding":{"x":{"field":"d","type":"quantitative","scale":{"domain":[0,365],"nice":false},"axis":{"values":[0,100,200,300],"title":"day of the year"}},"y":{"field":"v","type":"quantitative","scale":{"domain":[0,20],"nice":false},"axis":{"values":[0,2.5,5,7.5,10,12.5,15,17.5,20],"format":".1f","title":"mean GPP cycle (gC m⁻² day⁻¹)"}},"color":{"field":"s","type":"nominal","sort":null,"scale":{"domain":["BE-Bra (MF)","NL-Loo","FI-Hyy","FI-Sod","FR-LBr","IT-SRo"],"range":["#440154","#414487","#2a788e","#22a884","#7ad151","#fde725"]},"legend":{"title":null}}}},
{"data":{"values":[{"t":"(b)"}]},"mark":{"type":"text","font":"Liberation Serif","fontSize":13,"align":"right","baseline":"middle","color":"#111"},"encoding":{"x":{"datum":347},"y":{"datum":18.6},"text":{"field":"t"}}}]},
{"title":{"text":"Dominant species: Quercus Species","offset":-2},"width":215,"height":183,"layer":[
{"data":{"name":"c"},"mark":{"type":"line","strokeWidth":1,"opacity":0.7,"clip":true},"encoding":{"x":{"field":"d","type":"quantitative","scale":{"domain":[0,365],"nice":false},"axis":{"values":[0,100,200,300],"title":"day of the year"}},"y":{"field":"v","type":"quantitative","scale":{"domain":[0,20],"nice":false},"axis":{"values":[0,2.5,5,7.5,10,12.5,15,17.5,20],"format":".1f","title":"mean GPP cycle (gC m⁻² day⁻¹)"}},"color":{"field":"s","type":"nominal","sort":null,"scale":{"domain":["FR-Fon","FR-Pue","IT-Cpz","IT-Ro1","IT-Ro2"],"range":["#440154","#3b528b","#21918c","#5ec962","#fde725"]},"legend":{"title":null}}}},
{"data":{"values":[{"t":"(c)"}]},"mark":{"type":"text","font":"Liberation Serif","fontSize":13,"align":"right","baseline":"middle","color":"#111"},"encoding":{"x":{"datum":347},"y":{"datum":18.6},"text":{"field":"t"}}}]},
{"title":{"text":"Dominant species: Fagus Sylvatica","offset":-2},"width":215,"height":183,"layer":[
{"data":{"name":"d"},"mark":{"type":"line","strokeWidth":1,"opacity":0.7,"clip":true},"encoding":{"x":{"field":"d","type":"quantitative","scale":{"domain":[0,365],"nice":false},"axis":{"values":[0,100,200,300],"title":"day of the year"}},"y":{"field":"v","type":"quantitative","scale":{"domain":[0,20],"nice":false},"axis":{"values":[0,2.5,5,7.5,10,12.5,15,17.5,20],"format":".1f","title":"mean GPP cycle (gC m⁻² day⁻¹)"}},"color":{"field":"s","type":"nominal","sort":null,"scale":{"domain":["BE-Vie (MF)","CH-Lae (MF)","DE-Hai","DE-Lnf","DK-Sor","IT-Col"],"range":["#440154","#414487","#2a788e","#22a884","#7ad151","#fde725"]},"legend":{"title":null}}}},
{"data":{"values":[{"t":"(d)"}]},"mark":{"type":"text","font":"Liberation Serif","fontSize":13,"align":"right","baseline":"middle","color":"#111"},"encoding":{"x":{"datum":347},"y":{"datum":18.6},"text":{"field":"t"}}}]},
{"title":{"text":"Dominant species: Picea Abies","offset":-2},"width":215,"height":183,"layer":[
{"data":{"name":"e"},"mark":{"type":"line","strokeWidth":1,"opacity":0.7,"clip":true},"encoding":{"x":{"field":"d","type":"quantitative","scale":{"domain":[0,365],"nice":false},"axis":{"values":[0,100,200,300],"title":"day of the year"}},"y":{"field":"v","type":"quantitative","scale":{"domain":[0,20],"nice":false},"axis":{"values":[0,2.5,5,7.5,10,12.5,15,17.5,20],"format":".1f","title":"max GPP cycle (gC m⁻² day⁻¹)"}},"color":{"field":"s","type":"nominal","sort":null,"scale":{"domain":["DE-Obe","DE-Tha","CH-Dav","IT-Ren","RU-Fyo"],"range":["#440154","#3b528b","#21918c","#5ec962","#fde725"]},"legend":{"title":null}}}},
{"data":{"values":[{"t":"(e)"}]},"mark":{"type":"text","font":"Liberation Serif","fontSize":13,"align":"right","baseline":"middle","color":"#111"},"encoding":{"x":{"datum":347},"y":{"datum":18.6},"text":{"field":"t"}}}]},
{"title":{"text":"Dominant species: Pinus Species","offset":-2},"width":215,"height":183,"layer":[
{"data":{"name":"f"},"mark":{"type":"line","strokeWidth":1,"opacity":0.7,"clip":true},"encoding":{"x":{"field":"d","type":"quantitative","scale":{"domain":[0,365],"nice":false},"axis":{"values":[0,100,200,300],"title":"day of the year"}},"y":{"field":"v","type":"quantitative","scale":{"domain":[0,20],"nice":false},"axis":{"values":[0,2.5,5,7.5,10,12.5,15,17.5,20],"format":".1f","title":"max GPP cycle (gC m⁻² day⁻¹)"}},"color":{"field":"s","type":"nominal","sort":null,"scale":{"domain":["BE-Bra (MF)","NL-Loo","FI-Hyy","FI-Sod","FR-LBr","IT-SRo"],"range":["#440154","#414487","#2a788e","#22a884","#7ad151","#fde725"]},"legend":{"title":null}}}},
{"data":{"values":[{"t":"(f)"}]},"mark":{"type":"text","font":"Liberation Serif","fontSize":13,"align":"right","baseline":"middle","color":"#111"},"encoding":{"x":{"datum":347},"y":{"datum":18.6},"text":{"field":"t"}}}]},
{"title":{"text":"Dominant species: Quercus Species","offset":-2},"width":215,"height":183,"layer":[
{"data":{"name":"g"},"mark":{"type":"line","strokeWidth":1,"opacity":0.7,"clip":true},"encoding":{"x":{"field":"d","type":"quantitative","scale":{"domain":[0,365],"nice":false},"axis":{"values":[0,100,200,300],"title":"day of the year"}},"y":{"field":"v","type":"quantitative","scale":{"domain":[0,20],"nice":false},"axis":{"values":[0,2.5,5,7.5,10,12.5,15,17.5,20],"format":".1f","title":"max GPP cycle (gC m⁻² day⁻¹)"}},"color":{"field":"s","type":"nominal","sort":null,"scale":{"domain":["FR-Fon","FR-Pue","IT-Cpz","IT-Ro1","IT-Ro2"],"range":["#440154","#3b528b","#21918c","#5ec962","#fde725"]},"legend":{"title":null}}}},
{"data":{"values":[{"t":"(g)"}]},"mark":{"type":"text","font":"Liberation Serif","fontSize":13,"align":"right","baseline":"middle","color":"#111"},"encoding":{"x":{"datum":347},"y":{"datum":18.6},"text":{"field":"t"}}}]},
{"title":{"text":"Dominant species: Fagus Sylvatica","offset":-2},"width":215,"height":183,"layer":[
{"data":{"name":"h"},"mark":{"type":"line","strokeWidth":1,"opacity":0.7,"clip":true},"encoding":{"x":{"field":"d","type":"quantitative","scale":{"domain":[0,365],"nice":false},"axis":{"values":[0,100,200,300],"title":"day of the year"}},"y":{"field":"v","type":"quantitative","scale":{"domain":[0,20],"nice":false},"axis":{"values":[0,2.5,5,7.5,10,12.5,15,17.5,20],"format":".1f","title":"max GPP cycle (gC m⁻² day⁻¹)"}},"color":{"field":"s","type":"nominal","sort":null,"scale":{"domain":["BE-Vie (MF)","CH-Lae (MF)","DE-Hai","DE-Lnf","DK-Sor","IT-Col"],"range":["#440154","#414487","#2a788e","#22a884","#7ad151","#fde725"]},"legend":{"title":null}}}},
{"data":{"values":[{"t":"(h)"}]},"mark":{"type":"text","font":"Liberation Serif","fontSize":13,"align":"right","baseline":"middle","color":"#111"},"encoding":{"x":{"datum":347},"y":{"datum":18.6},"text":{"field":"t"}}}]}
]
},
{"width":1055,"height":20,"view":{"stroke":null},"layer":[
{"data":{"values":[{"t":"Figure 4."}]},"mark":{"type":"text","font":"Liberation Serif","fontSize":22,"fontWeight":"bold","align":"left","baseline":"middle","color":"#111"},"encoding":{"x":{"value":-43},"y":{"value":10},"text":{"field":"t"}}},
{"data":{"values":[{"t":"The mean (a)–(d) and maximum (e)–(h) daily GPP cycle at each FLUXNET forest site."}]},"mark":{"type":"text","font":"Liberation Serif","fontSize":22,"align":"left","baseline":"middle","color":"#111"},"encoding":{"x":{"value":46},"y":{"value":10},"text":{"field":"t"}}}
]}
],
"spacing":13,
"config":{
"font":"DejaVu Sans",
"view":{"stroke":"#222","strokeWidth":1},
"title":{"font":"DejaVu Sans","fontSize":9.6,"fontWeight":"normal","color":"#111"},
"axis":{"labelFont":"DejaVu Sans","titleFont":"DejaVu Sans","labelFontSize":10,"titleFontSize":10.5,"titleFontWeight":"normal","labelColor":"#222","titleColor":"#222","tickColor":"#222","domainColor":"#222","tickSize":3.5,"labelPadding":2,"gridColor":"#d4d4d4","gridWidth":1,"labelFlush":false},
"axisX":{"titlePadding":2},
"axisY":{"titlePadding":4},
"legend":{"orient":"top-left","offset":4,"fillColor":"white","strokeColor":"#cccccc","cornerRadius":3,"padding":3,"symbolType":"M-2.4,0H2.4","symbolSize":64,"symbolOffset":6,"symbolStrokeWidth":1.2,"labelFont":"DejaVu Sans","labelFontSize":9,"labelColor":"#222","labelOffset":10,"rowPadding":2.7}
}
}
